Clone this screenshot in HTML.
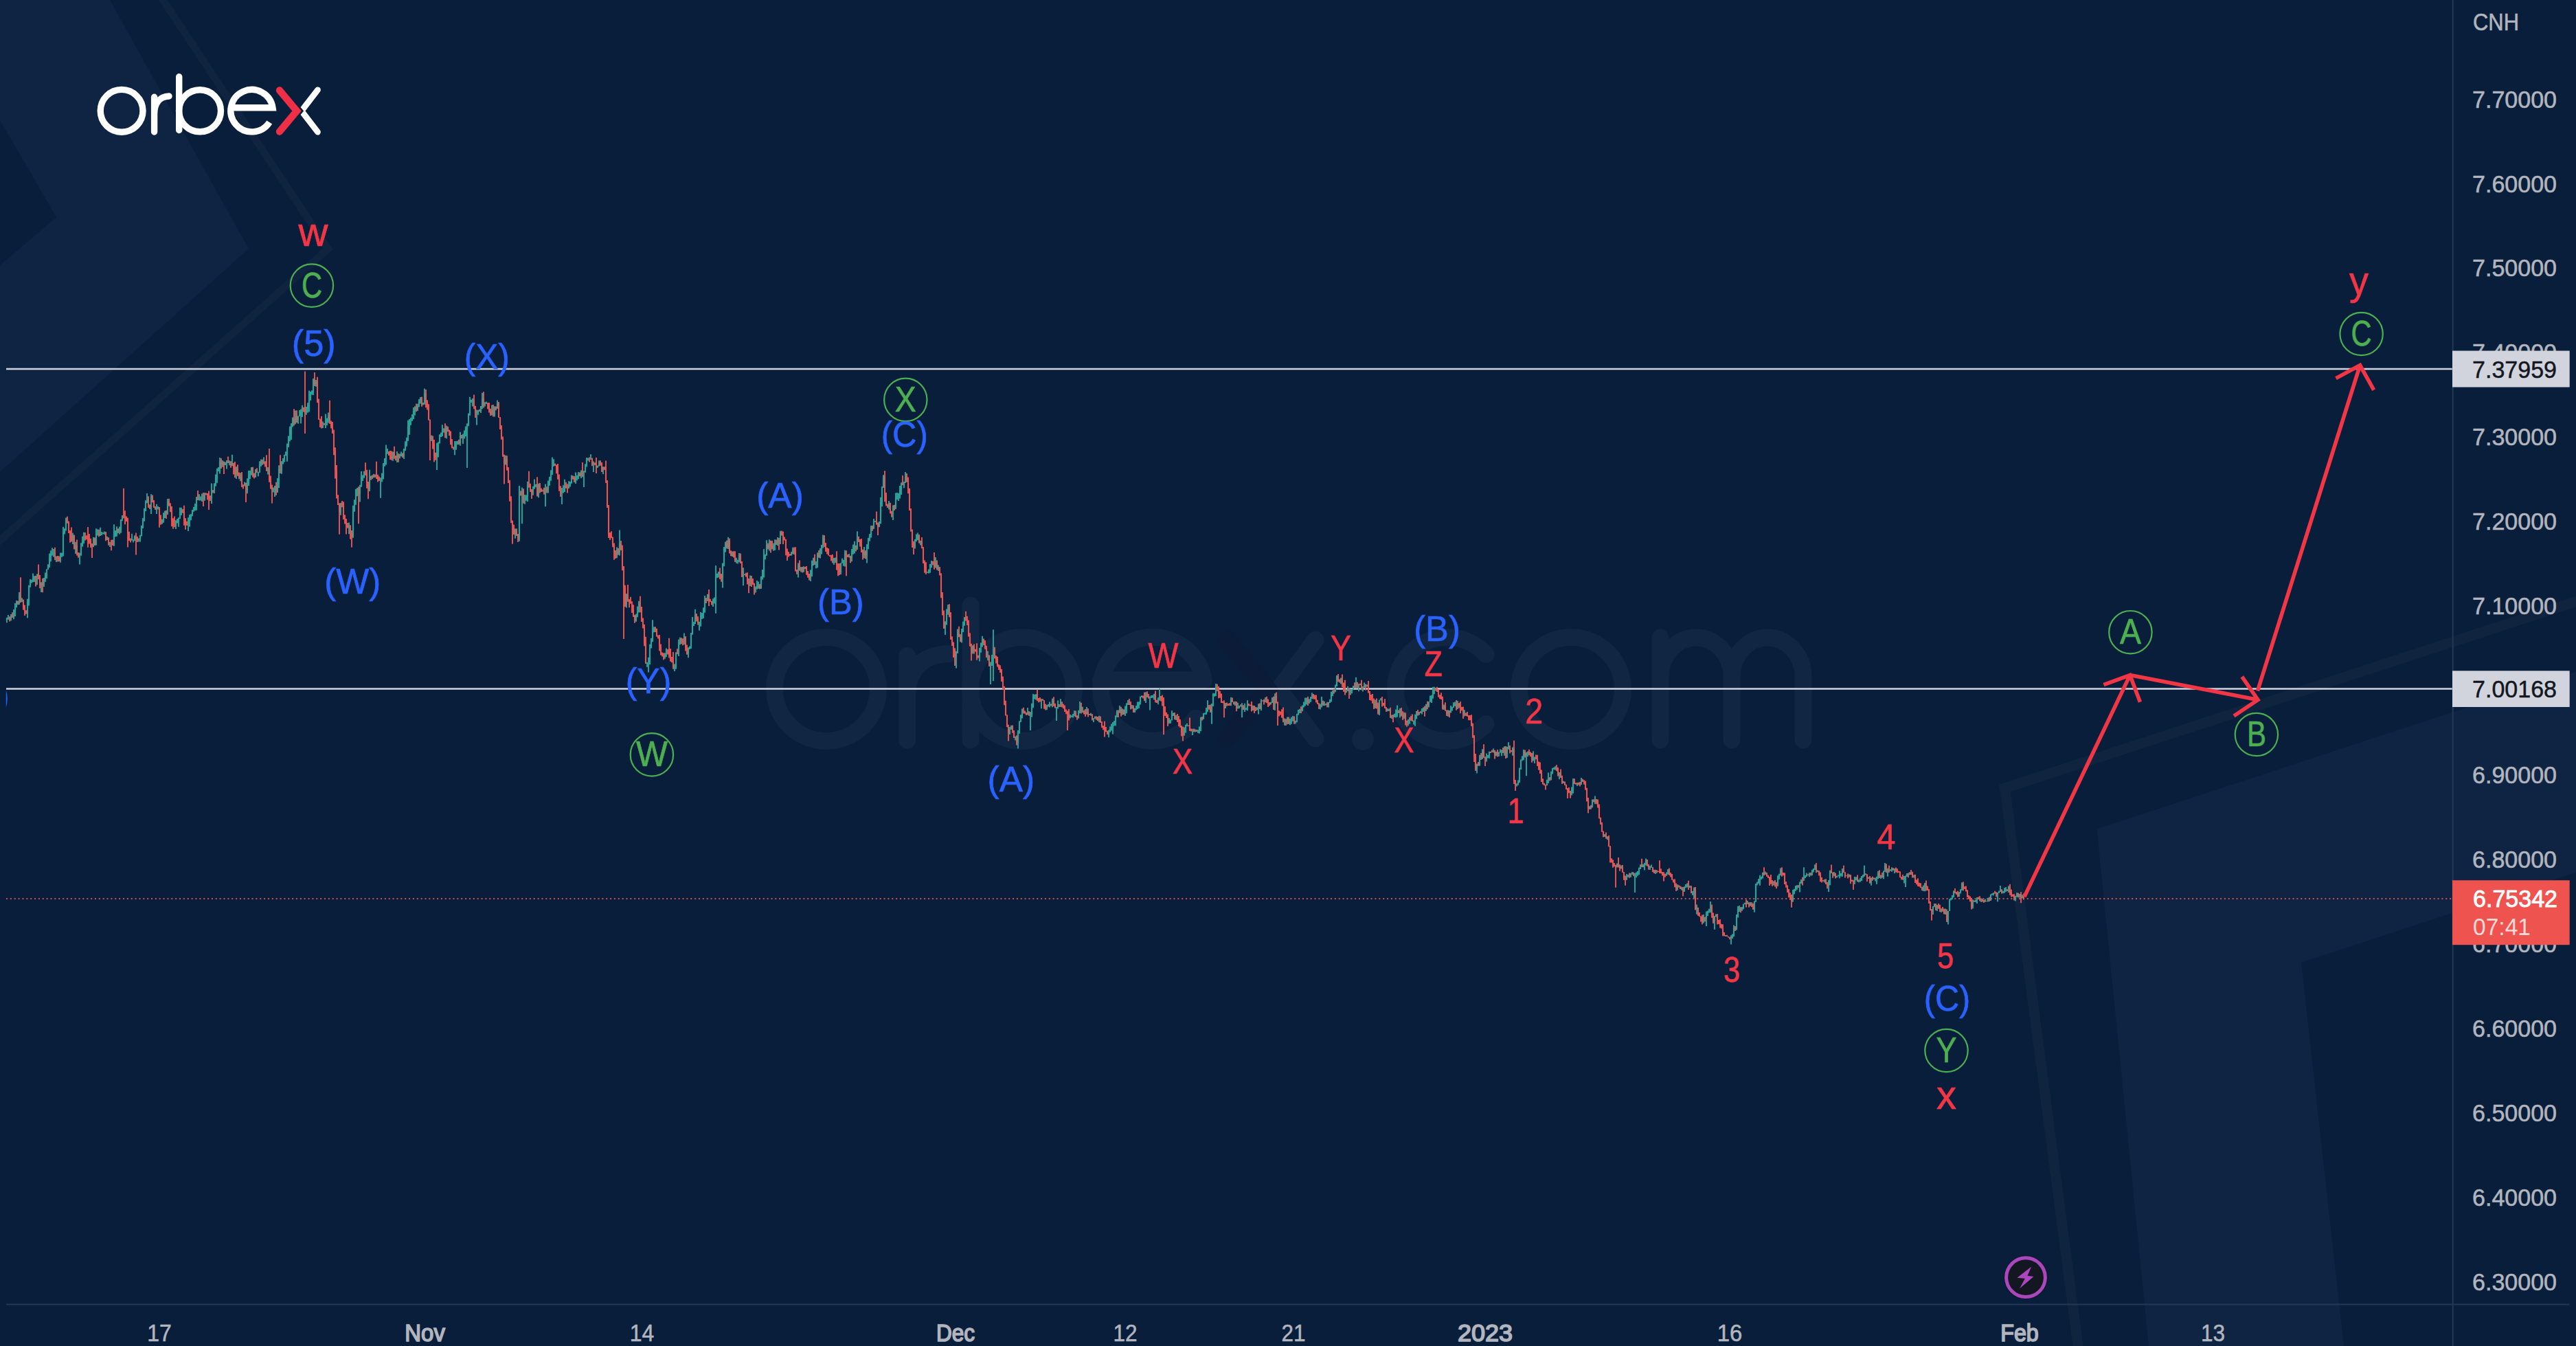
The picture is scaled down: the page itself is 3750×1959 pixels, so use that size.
<!DOCTYPE html>
<html lang="en"><head><meta charset="utf-8"><title>USDCNH Elliott wave chart</title>
<style>
html,body{margin:0;padding:0;background:#081e3b;}
body{width:3750px;height:1959px;overflow:hidden;position:relative;font-family:"Liberation Sans", sans-serif;}
</style></head><body>
<svg width="3750" height="1959" viewBox="0 0 3750 1959" style="position:absolute;left:0;top:0">
<g id="bgshapes">
<polygon points="0,0 160,0 362,362 0,687 0,386 82,316 0,175" fill="#0f2442"/>
<polyline points="234,-5 477.5,362 -5,791" fill="none" stroke="#102440" stroke-width="11"/>
<polygon points="3052.5,1206.4 3750,977.6 3750,1269.8 3350,1401 3412,1959 3128,1959" fill="#0f2442"/>
<polyline points="3756,873.5 2918.5,1147 3026,1966" fill="none" stroke="#102440" stroke-width="15"/>
</g>
<g fill="none" stroke="#112643" stroke-width="25" stroke-linecap="round" stroke-linejoin="round"><circle cx="1203" cy="1003" r="75.5"/><path d="M1320.6 1077.5V954.5M1320.6 1014C1320.6 976 1341 953 1381 951.5"/><path d="M1413 881V1077"/><circle cx="1488" cy="1003" r="75.5"/><path d="M1602.5 990H1752.5A75.5 75.5 0 1 0 1740.6 1045.2"/><path d="M1915 931L1862 1003L1915 1075" stroke-linejoin="miter"/><path d="M2163.1 952.5A75.5 75.5 0 1 0 2163.1 1053.5"/><circle cx="2287" cy="1003" r="75.5"/><path d="M2417 928V1077M2417 985A52 57 0 0 1 2521 985V1077M2521 985A52 57 0 0 1 2625 985V1077"/></g><circle cx="1984" cy="1076" r="16" fill="#112643"/><path d="M1786 931L1846 1003L1786 1075" fill="none" stroke="#0c1b38" stroke-width="25" stroke-linecap="round" stroke-linejoin="miter"/>
<path d="M9 537H3570M9 1002.5H3570" stroke="#cfd2dd" stroke-width="2.4" fill="none"/>
<path d="M9 1308H3570" stroke="#ef5350" stroke-width="2.1" stroke-dasharray="2.1 3.76" stroke-opacity="0.85" fill="none"/>
<path d="M8.8 1004.5Q12.6 1017 8.8 1030Z" fill="#2962ff"/>
<g fill="none">
<path d="M10.0 898.8V906.3M12.0 895.1V901.8M16.0 894.0V903.5M20.0 887.1V901.3M22.0 878.0V896.9M24.0 873.9V884.2M28.0 861.8V879.9M32.0 870.2V876.2M40.0 871.8V899.5M42.0 851.7V881.6M44.0 843.1V854.8M46.0 843.7V848.5M48.0 834.6V847.3M50.0 838.2V847.1M54.0 835.4V851.2M60.0 847.2V861.9M64.0 841.1V854.1M66.0 833.5V846.7M68.0 828.6V841.9M70.0 821.2V829.0M72.0 805.5V826.0M74.0 801.3V817.2M76.0 797.2V808.6M78.0 799.0V810.6M82.0 809.7V818.0M88.0 804.5V818.8M90.0 804.6V810.7M92.0 766.7V809.5M94.0 769.2V777.4M96.0 753.4V772.4M106.0 775.7V792.0M110.0 788.8V806.0M116.0 804.5V821.5M118.0 790.3V808.7M120.0 780.6V795.6M122.0 774.8V791.3M136.0 781.7V796.3M140.0 769.3V793.4M142.0 770.3V779.5M146.0 767.8V779.9M148.0 773.9V779.0M150.0 775.3V777.3M152.0 773.4V777.9M156.0 780.7V786.1M160.0 788.7V795.9M166.0 763.3V794.7M168.0 771.9V781.3M170.0 766.2V780.7M174.0 766.5V777.6M176.0 755.9V775.7M178.0 749.9V758.3M192.0 776.8V786.7M194.0 785.7V789.6M196.0 779.2V787.2M202.0 783.4V788.5M204.0 778.7V788.6M206.0 764.7V780.4M208.0 754.1V769.1M210.0 739.8V758.8M212.0 728.2V744.0M214.0 717.9V732.2M220.0 719.3V748.0M228.0 733.7V748.0M230.0 737.1V741.6M236.0 755.7V762.8M238.0 746.2V760.8M240.0 743.5V754.0M244.0 726.1V748.9M256.0 757.2V770.0M258.0 755.1V761.4M260.0 753.5V766.8M262.0 738.8V755.1M264.0 738.8V750.1M274.0 753.3V773.1M276.0 749.1V766.6M278.0 748.4V757.2M280.0 741.9V751.3M282.0 737.8V744.7M284.0 733.1V743.0M286.0 723.0V742.7M290.0 719.3V728.4M292.0 722.6V728.6M294.0 718.5V730.1M298.0 717.2V728.7M308.0 703.5V733.1M312.0 703.3V718.1M314.0 690.5V707.8M316.0 681.7V702.8M318.0 680.0V685.9M320.0 666.1V689.4M324.0 670.1V679.8M328.0 672.4V677.1M330.0 669.9V682.5M334.0 670.2V677.2M338.0 661.7V678.3M344.0 679.0V697.1M350.0 688.2V700.3M356.0 701.5V707.7M360.0 696.2V718.3M362.0 685.1V707.0M364.0 684.7V697.2M366.0 679.9V691.7M372.0 682.7V695.0M376.0 687.0V693.3M378.0 671.2V687.9M380.0 668.5V678.8M384.0 665.6V675.5M390.0 680.1V690.5M398.0 709.6V716.6M400.0 706.9V722.9M404.0 695.9V717.1M406.0 677.2V709.9M410.0 671.2V689.7M412.0 667.1V675.5M414.0 661.8V672.6M416.0 657.3V663.4M418.0 645.5V671.7M420.0 634.5V651.0M422.0 620.4V642.2M424.0 615.9V640.0M426.0 607.6V621.4M430.0 597.5V617.6M434.0 605.4V616.8M436.0 597.1V605.8M438.0 595.6V616.3M440.0 589.7V607.0M446.0 591.9V603.7M448.0 586.2V600.7M450.0 568.6V599.4M452.0 570.0V582.7M454.0 568.2V574.4M456.0 550.7V575.0M460.0 553.1V562.8M470.0 613.4V623.0M474.0 602.6V623.0M476.0 608.6V619.0M478.0 600.5V615.4M496.0 731.8V749.7M508.0 760.6V777.3M514.0 735.8V782.7M516.0 727.4V744.7M518.0 711.8V734.7M520.0 710.1V722.3M524.0 705.8V730.5M526.0 686.1V708.8M528.0 691.6V699.9M530.0 685.7V695.8M538.0 683.7V715.0M542.0 691.6V697.2M546.0 690.4V694.7M554.0 695.2V724.7M556.0 688.5V701.4M558.0 673.9V697.6M560.0 667.0V678.6M562.0 647.5V676.4M564.0 653.1V660.8M572.0 657.6V670.7M578.0 657.0V672.9M582.0 660.4V667.2M584.0 657.5V664.3M588.0 653.1V667.9M590.0 642.2V656.1M592.0 636.7V649.8M594.0 611.8V642.1M596.0 610.0V632.8M598.0 608.1V618.7M600.0 603.1V612.8M602.0 593.1V609.9M604.0 591.3V604.4M608.0 587.7V598.0M610.0 581.1V592.6M612.0 577.9V587.4M616.0 586.0V589.3M618.0 565.5V588.8M628.0 633.4V642.1M636.0 644.8V684.1M638.0 643.2V665.5M640.0 632.2V645.4M642.0 629.4V636.0M644.0 618.3V635.0M646.0 623.2V629.6M650.0 619.5V638.2M662.0 642.1V662.3M664.0 642.0V654.7M666.0 641.4V647.2M670.0 628.7V648.7M674.0 631.5V646.1M676.0 626.5V638.5M678.0 620.4V635.1M680.0 616.3V681.0M682.0 601.5V620.2M684.0 577.7V604.7M686.0 581.7V586.1M688.0 579.8V591.4M694.0 596.6V618.6M696.0 596.8V603.7M700.0 591.1V601.1M702.0 571.8V595.0M706.0 585.2V591.4M708.0 584.6V588.0M716.0 589.6V604.5M720.0 591.2V606.4M724.0 582.6V594.7M736.0 662.8V676.4M750.0 769.2V783.7M756.0 707.1V787.8M760.0 709.6V762.2M764.0 720.1V733.7M766.0 720.3V728.8M768.0 700.7V730.0M776.0 707.7V720.8M778.0 697.6V711.8M780.0 704.7V709.2M784.0 703.7V724.2M790.0 712.5V715.4M794.0 704.6V737.2M798.0 699.4V717.5M800.0 693.8V706.7M802.0 684.2V699.8M804.0 665.4V691.1M806.0 668.3V678.5M818.0 710.0V734.1M820.0 706.3V717.6M822.0 697.7V715.9M828.0 700.3V710.7M830.0 701.1V708.5M832.0 691.6V703.8M838.0 687.6V704.1M840.0 691.7V699.2M842.0 687.0V697.2M846.0 684.4V696.1M850.0 685.2V709.1M852.0 675.2V687.7M854.0 666.1V679.5M856.0 666.6V670.5M860.0 661.2V668.9M864.0 671.6V687.1M870.0 677.4V680.7M872.0 670.3V678.5M878.0 679.3V689.9M898.0 796.5V812.2M902.0 771.5V808.4M912.0 864.0V884.5M926.0 893.5V904.8M928.0 882.5V898.3M930.0 874.8V891.6M942.0 964.1V970.8M944.0 956.8V978.6M946.0 937.7V967.2M948.0 929.0V943.6M950.0 902.3V934.3M952.0 912.2V920.2M968.0 950.3V958.7M970.0 943.4V955.9M982.0 966.5V977.1M984.0 949.2V973.8M988.0 930.8V954.9M990.0 927.8V938.3M996.0 921.6V938.3M1002.0 942.3V957.2M1004.0 940.5V945.0M1006.0 921.0V944.1M1008.0 898.0V923.7M1010.0 905.5V911.0M1012.0 886.8V908.1M1018.0 904.8V917.8M1020.0 890.8V911.7M1022.0 892.1V901.1M1024.0 884.3V900.1M1026.0 867.0V891.7M1030.0 864.8V875.1M1038.0 871.3V883.0M1040.0 869.4V878.5M1042.0 823.1V892.8M1044.0 834.8V841.1M1046.0 832.1V840.5M1052.0 819.5V855.4M1054.0 795.9V824.2M1056.0 788.5V803.7M1060.0 781.8V799.1M1066.0 802.5V809.9M1072.0 811.8V819.8M1074.0 814.7V820.4M1076.0 805.1V818.2M1082.0 826.3V852.2M1084.0 835.5V837.2M1092.0 837.6V852.9M1100.0 853.5V862.4M1102.0 845.1V857.8M1104.0 846.5V856.7M1108.0 838.8V857.0M1110.0 829.3V843.5M1112.0 799.3V840.5M1114.0 806.9V814.2M1116.0 786.2V808.8M1120.0 785.2V801.5M1126.0 790.6V801.8M1128.0 785.3V800.9M1132.0 782.1V794.2M1136.0 772.8V792.1M1152.0 803.0V808.4M1154.0 796.7V806.4M1162.0 819.6V840.5M1166.0 825.3V832.6M1170.0 824.3V832.7M1180.0 829.4V846.0M1182.0 815.7V839.0M1184.0 811.7V822.9M1188.0 817.3V827.3M1190.0 804.3V826.6M1194.0 798.0V812.6M1196.0 793.0V806.5M1198.0 778.6V797.7M1214.0 812.0V821.9M1216.0 811.4V819.2M1224.0 819.5V835.9M1226.0 812.7V819.8M1228.0 814.7V823.8M1230.0 800.7V824.5M1236.0 806.1V811.4M1240.0 798.9V817.3M1242.0 792.4V806.8M1244.0 787.8V805.6M1248.0 773.3V800.0M1258.0 796.0V812.2M1262.0 791.9V819.5M1264.0 782.8V799.3M1266.0 777.0V787.8M1268.0 764.9V782.6M1272.0 754.9V769.8M1274.0 758.0V759.8M1280.0 759.0V767.2M1282.0 723.7V762.2M1284.0 708.0V737.2M1286.0 691.3V710.0M1294.0 728.9V741.6M1300.0 735.2V757.0M1304.0 717.6V740.9M1306.0 716.9V727.3M1308.0 717.7V729.1M1310.0 707.1V725.5M1312.0 702.2V720.0M1316.0 701.1V710.3M1318.0 687.0V702.9M1332.0 784.7V798.5M1334.0 777.6V788.3M1336.0 775.4V786.3M1340.0 786.7V793.5M1350.0 832.2V833.7M1352.0 828.4V834.5M1354.0 821.0V833.7M1356.0 815.9V826.2M1362.0 811.0V826.4M1366.0 822.3V831.0M1376.0 904.3V924.1M1378.0 886.4V909.6M1380.0 879.9V894.8M1392.0 947.7V972.5M1394.0 915.6V951.1M1400.0 915.1V935.5M1402.0 904.4V920.0M1404.0 898.1V910.8M1416.0 939.2V951.5M1426.0 943.1V962.4M1428.0 935.4V949.7M1430.0 925.7V941.4M1438.0 947.8V961.2M1442.0 963.5V995.9M1444.0 952.9V969.1M1446.0 916.3V991.2M1470.0 1057.9V1068.9M1472.0 1055.7V1062.0M1478.0 1071.7V1077.4M1482.0 1063.1V1089.6M1484.0 1049.4V1067.7M1486.0 1040.3V1051.1M1488.0 1031.5V1045.6M1496.0 1030.1V1040.6M1500.0 1036.1V1063.0M1502.0 1023.7V1043.6M1504.0 1010.1V1030.2M1506.0 1010.7V1017.6M1508.0 1010.2V1018.5M1516.0 1017.1V1031.3M1524.0 1026.1V1033.3M1526.0 1025.0V1028.6M1528.0 1021.4V1029.6M1532.0 1016.5V1029.2M1538.0 1029.1V1049.0M1540.0 1019.5V1031.4M1544.0 1017.3V1028.9M1558.0 1040.0V1045.3M1560.0 1041.6V1043.7M1562.0 1039.2V1044.6M1564.0 1034.3V1042.5M1570.0 1033.8V1045.8M1572.0 1020.9V1038.2M1576.0 1028.7V1037.2M1582.0 1029.0V1039.8M1588.0 1037.8V1041.8M1592.0 1045.0V1050.9M1594.0 1042.5V1046.0M1600.0 1041.8V1051.2M1614.0 1062.3V1073.3M1616.0 1057.6V1065.6M1618.0 1053.4V1063.5M1620.0 1051.1V1068.4M1622.0 1049.0V1056.6M1624.0 1041.2V1056.2M1626.0 1033.6V1044.0M1630.0 1027.1V1037.7M1634.0 1031.3V1040.5M1638.0 1027.5V1042.1M1640.0 1023.3V1038.2M1642.0 1019.1V1025.9M1648.0 1025.9V1031.4M1652.0 1030.8V1037.1M1654.0 1027.0V1033.4M1656.0 1021.6V1032.0M1658.0 1021.2V1030.8M1660.0 1013.5V1025.4M1662.0 1012.2V1015.0M1668.0 1007.2V1023.1M1674.0 1013.5V1033.4M1676.0 1012.1V1015.8M1678.0 1011.8V1015.7M1680.0 1009.8V1018.5M1686.0 1015.3V1025.3M1688.0 1002.2V1019.8M1702.0 1045.1V1053.3M1704.0 1047.4V1053.1M1706.0 1034.3V1048.6M1708.0 1037.4V1041.9M1712.0 1040.9V1048.0M1724.0 1058.4V1070.8M1726.0 1054.7V1066.6M1728.0 1052.7V1057.2M1736.0 1060.8V1070.0M1740.0 1061.5V1065.4M1744.0 1062.3V1067.0M1746.0 1057.5V1067.4M1748.0 1043.7V1064.0M1752.0 1037.7V1046.7M1754.0 1037.4V1039.8M1756.0 1030.0V1040.0M1758.0 1019.3V1036.3M1764.0 1023.9V1053.7M1766.0 1008.7V1028.1M1768.0 1009.4V1013.8M1770.0 995.1V1013.0M1784.0 1022.9V1031.0M1792.0 1014.7V1027.2M1798.0 1020.8V1027.0M1802.0 1022.7V1031.6M1804.0 1027.1V1031.0M1808.0 1023.3V1044.3M1812.0 1023.8V1036.1M1814.0 1030.5V1033.3M1816.0 1019.3V1034.2M1824.0 1026.8V1034.1M1830.0 1029.5V1033.4M1832.0 1024.3V1039.6M1836.0 1017.6V1034.2M1842.0 1015.0V1022.3M1850.0 1021.8V1025.5M1852.0 1015.0V1023.1M1856.0 1009.2V1034.0M1870.0 1045.5V1055.7M1874.0 1043.6V1054.2M1878.0 1046.0V1055.3M1880.0 1043.7V1053.8M1882.0 1042.0V1049.7M1886.0 1048.7V1053.3M1888.0 1038.7V1051.3M1890.0 1033.0V1040.8M1892.0 1031.8V1037.9M1896.0 1026.6V1035.2M1898.0 1021.6V1029.5M1900.0 1015.4V1027.6M1902.0 1015.6V1025.4M1906.0 1017.2V1024.0M1908.0 1014.1V1021.7M1910.0 1008.2V1016.9M1922.0 1024.5V1032.5M1924.0 1014.1V1029.4M1928.0 1020.8V1027.3M1930.0 1023.9V1026.5M1934.0 1021.7V1029.5M1936.0 1017.8V1023.1M1938.0 1006.8V1021.5M1940.0 1004.7V1013.1M1944.0 996.5V1007.3M1946.0 983.1V998.9M1952.0 986.4V995.6M1960.0 1004.3V1008.2M1962.0 998.7V1006.0M1966.0 1002.6V1011.5M1968.0 1003.1V1009.3M1970.0 998.0V1003.8M1974.0 985.8V1001.9M1978.0 995.2V1006.3M1984.0 998.9V1006.5M1986.0 993.4V1000.5M1990.0 996.4V999.4M2002.0 1018.6V1030.9M2008.0 1018.6V1041.1M2010.0 1016.1V1019.6M2020.0 1030.9V1035.3M2022.0 1031.8V1035.1M2026.0 1040.6V1046.1M2030.0 1038.8V1043.9M2032.0 1032.6V1044.4M2034.0 1026.4V1043.4M2038.0 1031.0V1044.6M2044.0 1036.8V1046.2M2050.0 1046.9V1055.9M2052.0 1044.1V1053.4M2058.0 1048.4V1054.6M2060.0 1039.8V1056.7M2062.0 1035.0V1046.5M2066.0 1035.9V1040.8M2070.0 1030.9V1039.6M2072.0 1029.5V1035.9M2076.0 1024.7V1035.1M2080.0 1021.0V1029.5M2082.0 1012.6V1021.8M2084.0 1011.7V1022.9M2086.0 999.8V1016.7M2088.0 999.8V1010.2M2102.0 1025.5V1033.1M2108.0 1033.2V1042.7M2112.0 1027.1V1037.4M2114.0 1028.7V1034.4M2116.0 1022.3V1030.0M2118.0 1021.5V1027.7M2122.0 1020.1V1032.1M2132.0 1033.3V1042.5M2150.0 1111.6V1125.5M2154.0 1098.8V1114.7M2158.0 1090.2V1104.7M2164.0 1096.4V1108.5M2166.0 1099.0V1103.3M2168.0 1093.8V1103.7M2174.0 1089.6V1095.4M2178.0 1094.1V1100.4M2182.0 1094.5V1100.9M2184.0 1090.6V1095.5M2186.0 1091.2V1100.2M2190.0 1086.2V1099.8M2194.0 1086.7V1103.1M2196.0 1080.2V1090.7M2202.0 1087.4V1099.8M2208.0 1140.4V1144.5M2210.0 1135.5V1142.7M2212.0 1117.6V1138.9M2214.0 1105.6V1120.0M2216.0 1100.2V1107.3M2218.0 1090.9V1106.3M2222.0 1094.8V1129.3M2224.0 1093.6V1101.2M2232.0 1093.2V1107.6M2234.0 1101.7V1110.9M2252.0 1134.7V1143.3M2254.0 1124.4V1140.1M2258.0 1122.8V1135.4M2260.0 1117.8V1126.5M2262.0 1116.8V1120.0M2264.0 1115.2V1120.7M2270.0 1124.0V1134.2M2276.0 1136.8V1139.9M2288.0 1145.5V1157.6M2290.0 1133.0V1154.7M2296.0 1138.9V1144.0M2302.0 1132.1V1141.9M2314.0 1173.3V1177.9M2318.0 1163.4V1175.5M2322.0 1158.6V1170.2M2336.0 1214.0V1217.8M2340.0 1217.2V1222.3M2354.0 1256.6V1262.4M2360.0 1259.5V1264.3M2368.0 1272.1V1281.0M2370.0 1272.9V1276.8M2374.0 1270.8V1276.8M2376.0 1268.9V1273.0M2380.0 1270.7V1299.0M2382.0 1269.4V1277.2M2384.0 1268.0V1274.7M2386.0 1262.4V1273.0M2388.0 1258.2V1264.9M2392.0 1257.7V1262.2M2394.0 1255.8V1266.4M2396.0 1249.6V1259.5M2402.0 1260.2V1265.9M2404.0 1258.5V1263.0M2410.0 1265.7V1271.9M2426.0 1269.6V1274.4M2428.0 1265.3V1272.7M2442.0 1287.2V1295.7M2448.0 1290.7V1295.8M2452.0 1290.2V1298.0M2454.0 1286.9V1292.3M2456.0 1285.6V1291.6M2460.0 1289.0V1292.1M2464.0 1297.0V1303.0M2466.0 1291.6V1307.4M2470.0 1316.6V1330.8M2480.0 1331.1V1343.4M2484.0 1326.6V1348.0M2486.0 1325.4V1333.0M2488.0 1322.8V1328.5M2490.0 1312.1V1328.2M2496.0 1333.0V1352.7M2498.0 1330.5V1334.5M2512.0 1360.9V1363.0M2520.0 1361.3V1374.5M2522.0 1359.5V1366.1M2524.0 1346.5V1363.1M2528.0 1331.0V1353.7M2530.0 1319.0V1335.4M2532.0 1317.9V1326.9M2536.0 1320.0V1325.7M2538.0 1315.5V1323.2M2540.0 1313.7V1316.3M2544.0 1311.0V1316.1M2548.0 1313.1V1318.8M2554.0 1311.3V1327.7M2556.0 1285.9V1312.8M2558.0 1283.4V1288.6M2560.0 1278.9V1285.9M2562.0 1273.8V1288.8M2564.0 1275.7V1280.1M2566.0 1269.8V1278.5M2570.0 1268.6V1273.1M2582.0 1282.4V1288.6M2588.0 1274.3V1289.9M2590.0 1271.7V1279.8M2592.0 1263.6V1274.2M2610.0 1295.1V1312.7M2612.0 1293.8V1301.6M2614.0 1289.0V1296.7M2616.0 1288.6V1294.8M2620.0 1283.4V1298.6M2622.0 1279.9V1286.1M2626.0 1262.2V1282.1M2628.0 1274.0V1278.1M2630.0 1270.5V1275.9M2634.0 1270.0V1276.3M2638.0 1265.7V1274.2M2640.0 1264.1V1269.5M2642.0 1258.3V1265.9M2646.0 1266.6V1269.3M2656.0 1279.7V1284.5M2662.0 1281.0V1298.1M2664.0 1266.6V1288.2M2670.0 1268.9V1275.3M2674.0 1274.8V1277.2M2676.0 1273.6V1275.6M2678.0 1267.2V1278.2M2680.0 1271.1V1275.5M2682.0 1264.0V1275.8M2688.0 1274.2V1275.2M2692.0 1272.5V1276.7M2700.0 1275.9V1287.0M2702.0 1276.2V1281.3M2706.0 1280.3V1284.3M2708.0 1277.8V1283.6M2710.0 1275.1V1281.9M2712.0 1273.0V1277.5M2714.0 1259.7V1275.7M2720.0 1276.4V1278.9M2724.0 1277.4V1288.8M2730.0 1277.4V1282.4M2732.0 1275.8V1286.8M2734.0 1267.8V1279.1M2738.0 1273.5V1278.9M2742.0 1267.2V1279.2M2744.0 1256.1V1268.8M2748.0 1263.7V1275.7M2752.0 1265.2V1267.6M2754.0 1262.3V1268.8M2758.0 1264.1V1271.1M2772.0 1275.0V1285.6M2774.0 1274.5V1291.0M2776.0 1271.3V1276.1M2780.0 1269.2V1273.6M2786.0 1273.6V1277.5M2800.0 1288.5V1296.9M2802.0 1284.9V1297.2M2814.0 1318.9V1331.1M2816.0 1315.3V1320.2M2820.0 1317.3V1325.9M2826.0 1322.5V1328.0M2832.0 1322.6V1331.1M2836.0 1326.0V1345.4M2838.0 1308.2V1326.1M2840.0 1306.7V1310.5M2842.0 1303.0V1309.1M2844.0 1296.2V1305.9M2852.0 1298.4V1305.2M2854.0 1294.2V1300.5M2856.0 1284.2V1295.9M2872.0 1309.2V1322.2M2876.0 1309.5V1313.2M2878.0 1305.9V1315.1M2884.0 1307.2V1313.0M2890.0 1308.6V1312.8M2894.0 1306.7V1312.6M2898.0 1301.5V1311.1M2900.0 1300.2V1302.7M2902.0 1299.2V1303.2M2908.0 1298.9V1312.3M2910.0 1296.4V1300.0M2912.0 1288.9V1297.9M2916.0 1296.7V1300.2M2918.0 1292.3V1299.7M2920.0 1291.3V1298.0M2924.0 1289.2V1298.9M2934.0 1303.7V1311.4M2936.0 1299.3V1305.4M2940.0 1300.9V1306.4M2944.0 1302.3V1307.5" stroke="#26a69a" stroke-width="1.9"/>
<path d="M14.0 897.3V904.5M18.0 891.3V898.9M26.0 874.4V880.2M30.0 840.2V877.0M34.0 872.5V887.7M36.0 880.5V896.1M38.0 888.2V893.6M52.0 838.0V853.5M56.0 821.5V843.2M58.0 836.9V856.2M62.0 841.8V862.3M80.0 796.8V815.2M84.0 809.0V817.6M86.0 809.4V817.2M98.0 751.8V761.8M100.0 758.4V775.9M102.0 772.1V789.8M104.0 767.4V788.6M108.0 778.6V799.5M112.0 785.5V808.4M114.0 803.9V811.7M124.0 775.1V786.4M126.0 779.3V785.2M128.0 766.9V796.8M130.0 777.1V791.5M132.0 783.7V797.0M134.0 790.9V812.1M138.0 782.3V793.9M144.0 770.7V781.2M154.0 774.0V787.2M158.0 782.2V793.8M162.0 785.7V801.2M164.0 785.5V793.7M172.0 769.4V776.0M180.0 710.7V754.5M182.0 743.3V763.2M184.0 751.4V759.0M186.0 753.8V796.5M188.0 773.8V786.9M190.0 783.5V789.6M198.0 775.5V807.4M200.0 780.7V789.0M216.0 722.2V739.0M218.0 734.3V740.9M222.0 720.4V731.3M224.0 728.0V739.1M226.0 737.1V742.0M232.0 738.1V767.7M234.0 749.5V763.7M242.0 742.7V755.0M246.0 725.8V736.7M248.0 732.2V745.3M250.0 736.9V766.3M252.0 754.3V769.8M254.0 751.5V767.2M266.0 741.0V746.7M268.0 735.8V764.8M270.0 754.3V770.7M272.0 758.8V764.6M288.0 714.0V728.0M296.0 717.1V736.9M300.0 717.6V720.4M302.0 717.9V727.4M304.0 714.5V741.9M306.0 721.3V729.0M310.0 713.2V717.6M322.0 667.0V682.1M326.0 671.4V690.1M332.0 664.5V674.1M336.0 671.3V680.8M340.0 673.7V690.5M342.0 672.1V695.3M346.0 676.2V692.8M348.0 687.6V697.3M352.0 687.0V709.1M354.0 705.2V711.6M358.0 702.5V731.0M368.0 679.7V694.6M370.0 688.5V696.5M374.0 681.3V688.0M382.0 668.8V676.8M386.0 671.3V679.5M388.0 662.3V685.7M392.0 652.9V701.7M394.0 692.6V711.8M396.0 705.6V732.5M402.0 701.7V720.9M408.0 662.3V689.1M428.0 595.2V619.6M432.0 597.2V615.2M442.0 592.8V599.8M444.0 540.6V631.1M458.0 542.1V562.0M462.0 548.8V586.2M464.0 580.4V610.8M466.0 609.4V622.1M468.0 605.7V623.6M472.0 616.1V618.8M480.0 582.7V616.9M482.0 612.5V623.6M484.0 613.9V630.9M486.0 625.6V662.2M488.0 651.3V696.6M490.0 677.0V725.6M492.0 720.3V734.9M494.0 732.3V777.8M498.0 728.9V738.2M500.0 730.3V755.9M502.0 749.3V762.6M504.0 755.1V777.6M506.0 761.1V768.7M510.0 764.3V784.7M512.0 772.1V796.5M522.0 708.2V762.2M532.0 673.2V691.9M534.0 683.8V710.7M536.0 701.0V726.3M540.0 692.5V698.8M544.0 689.8V695.3M548.0 671.7V697.1M550.0 690.8V701.6M552.0 693.4V700.0M566.0 656.9V663.1M568.0 656.1V669.1M570.0 656.4V669.7M574.0 649.8V667.7M576.0 663.2V670.3M580.0 660.0V672.7M586.0 659.3V666.1M606.0 587.4V599.3M614.0 577.5V591.8M620.0 566.9V593.2M622.0 582.3V596.5M624.0 588.3V611.6M626.0 610.5V670.1M630.0 634.2V653.6M632.0 639.9V672.3M634.0 658.7V669.7M648.0 616.3V637.3M652.0 620.7V628.2M654.0 625.4V633.9M656.0 627.4V647.2M658.0 639.0V652.2M660.0 650.3V654.4M668.0 639.7V647.1M672.0 633.0V638.2M690.0 574.4V595.2M692.0 590.7V607.9M698.0 595.8V599.0M704.0 570.2V593.6M710.0 586.2V595.2M712.0 586.1V600.5M714.0 594.8V605.1M718.0 588.9V606.5M722.0 591.6V597.2M726.0 585.1V608.0M728.0 607.0V625.0M730.0 619.0V639.7M732.0 635.4V664.7M734.0 661.7V704.4M738.0 663.2V684.7M740.0 680.1V703.0M742.0 698.8V729.8M744.0 722.2V761.2M746.0 757.4V791.8M748.0 763.4V778.1M752.0 769.3V780.0M754.0 777.1V789.1M758.0 714.3V721.4M762.0 711.2V732.7M770.0 685.7V709.8M772.0 703.8V715.9M774.0 712.1V725.9M782.0 694.3V722.4M786.0 703.1V717.5M788.0 710.6V715.9M792.0 709.8V719.7M796.0 708.3V717.4M808.0 674.6V677.9M810.0 676.5V689.3M812.0 675.1V697.8M814.0 690.6V714.7M816.0 707.3V723.1M824.0 701.8V710.5M826.0 704.5V717.5M834.0 692.2V697.8M836.0 693.1V701.9M844.0 687.6V693.3M848.0 673.1V694.3M858.0 665.4V672.6M862.0 666.4V678.2M866.0 673.3V676.7M868.0 666.1V689.0M874.0 670.2V677.8M876.0 673.0V687.1M880.0 679.5V684.1M882.0 670.6V702.9M884.0 699.2V739.0M886.0 735.1V783.0M888.0 775.1V786.0M890.0 773.2V783.3M892.0 781.5V796.2M894.0 790.6V814.7M896.0 801.1V813.0M900.0 797.8V807.8M904.0 787.1V801.1M906.0 793.5V830.2M908.0 824.1V930.1M910.0 851.7V883.2M914.0 851.1V875.7M916.0 872.2V884.2M918.0 868.7V878.4M920.0 875.2V892.0M922.0 880.3V898.1M924.0 894.8V906.7M932.0 867.8V891.2M934.0 882.9V904.9M936.0 899.5V914.6M938.0 908.8V940.2M940.0 926.7V965.9M954.0 912.3V920.0M956.0 914.8V926.6M958.0 924.5V929.6M960.0 923.9V947.4M962.0 937.5V953.5M964.0 949.4V955.6M966.0 950.2V960.3M972.0 945.0V952.6M974.0 928.7V957.5M976.0 944.0V962.7M978.0 956.1V964.2M980.0 948.9V973.7M986.0 944.3V952.2M992.0 928.3V937.2M994.0 929.2V939.2M998.0 926.2V947.6M1000.0 938.5V952.7M1014.0 892.9V904.4M1016.0 897.3V909.5M1028.0 870.1V877.9M1032.0 857.9V882.0M1034.0 871.7V875.4M1036.0 874.8V880.6M1048.0 826.4V842.9M1050.0 834.9V846.8M1058.0 786.4V798.6M1062.0 783.4V805.6M1064.0 801.5V809.3M1068.0 802.3V811.4M1070.0 802.2V817.8M1078.0 805.4V819.9M1080.0 816.9V840.0M1086.0 833.7V839.6M1088.0 833.3V850.6M1090.0 841.9V863.2M1094.0 838.1V853.9M1096.0 842.0V851.0M1098.0 848.8V865.5M1106.0 849.9V857.3M1118.0 790.6V799.4M1122.0 786.7V804.5M1124.0 787.1V799.4M1130.0 785.5V792.9M1134.0 782.8V800.4M1138.0 772.4V779.6M1140.0 773.6V792.1M1142.0 781.5V786.6M1144.0 784.7V808.3M1146.0 798.4V816.0M1148.0 802.9V810.6M1150.0 806.2V808.8M1156.0 796.4V806.9M1158.0 796.2V831.5M1160.0 829.0V835.8M1164.0 815.6V830.8M1168.0 824.9V833.4M1172.0 825.1V828.2M1174.0 824.1V836.7M1176.0 831.0V840.7M1178.0 835.0V844.6M1186.0 806.7V822.0M1192.0 800.9V811.7M1200.0 778.9V796.3M1202.0 790.1V803.1M1204.0 797.1V806.5M1206.0 798.2V808.4M1208.0 808.0V810.0M1210.0 807.8V816.5M1212.0 807.1V819.6M1218.0 802.3V829.8M1220.0 820.1V838.2M1222.0 819.9V837.1M1232.0 801.2V838.2M1234.0 807.1V811.0M1238.0 808.7V819.3M1246.0 793.8V802.5M1250.0 780.7V788.9M1252.0 785.1V795.4M1254.0 783.9V804.1M1256.0 799.7V814.4M1260.0 801.1V813.4M1270.0 764.7V772.8M1276.0 744.6V763.8M1278.0 760.6V779.0M1288.0 685.3V730.2M1290.0 717.0V736.3M1292.0 733.4V738.9M1296.0 731.8V747.6M1298.0 743.7V752.7M1302.0 734.7V742.9M1314.0 692.1V706.3M1320.0 689.1V701.7M1322.0 694.4V718.2M1324.0 710.7V743.1M1326.0 739.9V773.8M1328.0 770.4V797.1M1330.0 787.8V807.0M1338.0 778.0V790.7M1342.0 782.0V798.2M1344.0 795.9V820.1M1346.0 815.5V833.8M1348.0 818.3V836.0M1358.0 816.8V822.6M1360.0 803.9V828.8M1364.0 815.4V829.6M1368.0 825.3V837.4M1370.0 834.2V870.3M1372.0 862.0V895.5M1374.0 888.5V915.1M1382.0 879.3V898.2M1384.0 890.9V930.9M1386.0 926.3V939.9M1388.0 934.5V957.1M1390.0 943.2V969.0M1396.0 911.7V927.3M1398.0 923.0V934.2M1406.0 889.8V903.6M1408.0 896.8V909.9M1410.0 902.6V926.5M1412.0 921.3V940.6M1414.0 936.8V961.6M1418.0 937.6V951.5M1420.0 944.8V948.5M1422.0 936.3V960.5M1424.0 953.8V957.8M1432.0 929.6V939.1M1434.0 932.0V944.7M1436.0 939.7V957.0M1440.0 953.4V969.9M1448.0 941.7V958.4M1450.0 954.3V965.6M1452.0 955.7V970.6M1454.0 967.0V975.0M1456.0 968.3V978.9M1458.0 973.7V991.9M1460.0 984.6V1003.3M1462.0 998.7V1026.2M1464.0 1019.7V1041.4M1466.0 1040.2V1058.2M1468.0 1054.8V1078.6M1474.0 1055.5V1066.7M1476.0 1063.1V1074.1M1480.0 1070.2V1084.4M1490.0 1029.8V1038.6M1492.0 1034.4V1038.6M1494.0 1037.1V1041.1M1498.0 1035.0V1042.0M1510.0 1003.7V1020.2M1512.0 1015.9V1022.3M1514.0 1015.1V1021.6M1518.0 1017.3V1019.8M1520.0 1019.1V1031.8M1522.0 1024.5V1033.6M1530.0 1024.5V1027.3M1534.0 1014.3V1028.1M1536.0 1023.8V1030.4M1542.0 1024.9V1029.1M1546.0 1021.5V1029.4M1548.0 1024.6V1031.2M1550.0 1026.4V1036.1M1552.0 1032.5V1039.2M1554.0 1034.4V1063.0M1556.0 1032.0V1048.4M1566.0 1034.5V1043.7M1568.0 1041.3V1047.8M1574.0 1022.8V1038.5M1578.0 1033.8V1039.4M1580.0 1032.1V1042.9M1584.0 1031.3V1043.5M1586.0 1038.9V1040.7M1590.0 1039.5V1048.4M1596.0 1042.5V1047.8M1598.0 1043.3V1049.3M1602.0 1042.5V1052.0M1604.0 1050.1V1059.0M1606.0 1056.3V1062.2M1608.0 1049.8V1072.4M1610.0 1058.0V1065.2M1612.0 1063.5V1069.1M1628.0 1033.5V1043.9M1632.0 1028.7V1042.8M1636.0 1032.4V1040.3M1644.0 1017.1V1026.0M1646.0 1020.9V1032.6M1650.0 1026.4V1037.1M1664.0 1012.6V1016.4M1666.0 1007.6V1020.2M1670.0 1006.3V1014.7M1672.0 1010.0V1016.8M1682.0 1005.4V1022.4M1684.0 1018.7V1023.0M1690.0 1013.0V1020.4M1692.0 1011.5V1027.4M1694.0 1015.1V1069.3M1696.0 1027.9V1042.0M1698.0 1036.7V1045.1M1700.0 1039.4V1056.9M1710.0 1037.1V1047.2M1714.0 1038.9V1051.0M1716.0 1042.1V1057.3M1718.0 1046.9V1059.1M1720.0 1055.9V1071.5M1722.0 1057.7V1078.6M1730.0 1055.5V1056.6M1732.0 1044.6V1064.1M1734.0 1060.6V1064.6M1738.0 1060.4V1065.2M1742.0 1062.1V1065.1M1750.0 1043.0V1048.6M1760.0 1026.1V1032.7M1762.0 1025.6V1037.0M1772.0 995.7V1006.0M1774.0 998.9V1016.2M1776.0 1005.8V1015.8M1778.0 1009.4V1023.1M1780.0 1020.4V1023.3M1782.0 1019.3V1044.3M1786.0 1022.4V1027.8M1788.0 1024.0V1027.0M1790.0 1023.3V1027.1M1794.0 1015.5V1021.9M1796.0 1021.4V1025.6M1800.0 1020.9V1035.3M1806.0 1025.2V1028.6M1810.0 1026.2V1033.3M1818.0 1024.1V1027.5M1820.0 1025.8V1027.6M1822.0 1020.9V1035.4M1826.0 1026.9V1038.0M1828.0 1029.1V1034.9M1834.0 1023.5V1031.9M1838.0 1019.5V1020.6M1840.0 1017.8V1025.5M1844.0 1013.7V1023.2M1846.0 1017.4V1029.0M1848.0 1022.2V1027.2M1854.0 1013.7V1033.0M1858.0 1007.6V1023.5M1860.0 1021.3V1055.9M1862.0 1034.3V1042.4M1864.0 1035.4V1040.4M1866.0 1032.3V1044.6M1868.0 1029.4V1051.2M1872.0 1046.3V1055.9M1876.0 1043.5V1054.1M1884.0 1042.5V1053.7M1894.0 1028.3V1038.0M1904.0 1013.8V1027.0M1912.0 1010.1V1017.6M1914.0 1011.5V1017.7M1916.0 1011.5V1022.3M1918.0 1018.7V1025.1M1920.0 1023.3V1031.9M1926.0 1019.6V1027.1M1932.0 1021.7V1029.4M1942.0 1002.8V1009.6M1948.0 981.1V992.5M1950.0 988.5V993.6M1954.0 981.6V1000.2M1956.0 993.5V1006.7M1958.0 989.8V1011.6M1964.0 1000.9V1016.9M1972.0 993.2V1001.4M1976.0 992.7V1002.0M1980.0 994.7V997.3M1982.0 989.8V1004.6M1988.0 995.6V1004.8M1992.0 991.0V1008.6M1994.0 1005.9V1018.9M1996.0 1011.1V1019.6M1998.0 1010.0V1023.7M2000.0 1016.4V1032.0M2004.0 1016.5V1031.5M2006.0 1022.5V1039.7M2012.0 1014.0V1028.6M2014.0 1022.9V1027.3M2016.0 1017.2V1031.0M2018.0 1029.3V1036.0M2024.0 1029.7V1045.1M2028.0 1040.0V1051.2M2036.0 1033.7V1037.9M2040.0 1030.1V1042.5M2042.0 1035.2V1048.1M2046.0 1037.2V1055.4M2048.0 1048.7V1057.8M2054.0 1041.7V1049.0M2056.0 1039.5V1050.1M2064.0 1033.0V1041.8M2068.0 1034.8V1038.1M2074.0 1027.6V1042.7M2078.0 1020.7V1032.2M2090.0 1001.3V1005.5M2092.0 999.8V1007.1M2094.0 1003.5V1014.7M2096.0 1011.3V1017.3M2098.0 1008.3V1017.9M2100.0 1013.8V1032.8M2104.0 1022.2V1034.8M2106.0 1033.4V1041.9M2110.0 1034.1V1044.3M2120.0 1019.1V1033.7M2124.0 1023.3V1030.4M2126.0 1020.9V1038.2M2128.0 1029.1V1034.2M2130.0 1028.6V1046.0M2134.0 1037.5V1042.0M2136.0 1035.9V1042.6M2138.0 1041.0V1048.3M2140.0 1041.0V1048.2M2142.0 1040.2V1057.1M2144.0 1052.5V1073.9M2146.0 1070.1V1109.1M2148.0 1097.0V1122.1M2152.0 1108.9V1114.7M2156.0 1095.9V1106.0M2160.0 1083.3V1102.8M2162.0 1101.3V1115.0M2170.0 1093.7V1095.9M2172.0 1091.6V1094.6M2176.0 1091.8V1104.6M2180.0 1091.0V1101.5M2188.0 1088.1V1095.9M2192.0 1086.0V1103.9M2198.0 1084.9V1096.6M2200.0 1092.1V1094.5M2204.0 1077.8V1141.0M2206.0 1135.0V1151.1M2220.0 1091.5V1102.4M2226.0 1090.7V1099.3M2228.0 1094.3V1101.2M2230.0 1096.1V1109.7M2236.0 1098.6V1105.2M2238.0 1098.8V1115.0M2240.0 1108.4V1120.8M2242.0 1109.5V1125.9M2244.0 1120.6V1138.0M2246.0 1133.3V1141.8M2248.0 1139.7V1143.2M2250.0 1141.7V1149.6M2256.0 1131.1V1136.6M2266.0 1113.3V1122.3M2268.0 1117.0V1129.7M2272.0 1119.6V1131.9M2274.0 1128.8V1141.1M2278.0 1137.6V1142.9M2280.0 1141.7V1148.9M2282.0 1147.3V1162.0M2284.0 1146.0V1154.2M2286.0 1151.1V1161.7M2292.0 1133.3V1141.3M2294.0 1139.3V1141.8M2298.0 1138.8V1142.4M2300.0 1138.1V1144.4M2304.0 1133.8V1138.0M2306.0 1135.2V1141.8M2308.0 1136.6V1149.7M2310.0 1146.8V1166.6M2312.0 1161.1V1183.5M2316.0 1171.7V1177.8M2320.0 1163.2V1167.4M2324.0 1163.1V1170.2M2326.0 1163.4V1175.8M2328.0 1170.6V1191.5M2330.0 1189.7V1200.0M2332.0 1197.1V1210.7M2334.0 1209.6V1218.6M2338.0 1211.5V1220.7M2342.0 1215.9V1232.3M2344.0 1230.9V1255.6M2346.0 1249.2V1255.5M2348.0 1251.5V1262.7M2350.0 1256.0V1261.2M2352.0 1258.8V1291.8M2356.0 1248.1V1262.5M2358.0 1258.2V1267.7M2362.0 1259.0V1269.7M2364.0 1268.9V1280.9M2366.0 1274.4V1288.7M2372.0 1270.6V1277.7M2378.0 1269.4V1275.2M2390.0 1249.7V1262.3M2398.0 1251.0V1260.8M2400.0 1258.1V1265.8M2406.0 1262.3V1269.2M2408.0 1265.8V1270.9M2412.0 1266.5V1270.5M2414.0 1267.7V1268.9M2416.0 1252.2V1271.0M2418.0 1264.2V1271.2M2420.0 1269.1V1274.5M2422.0 1269.3V1282.5M2424.0 1271.8V1276.8M2430.0 1263.4V1274.1M2432.0 1270.1V1276.6M2434.0 1272.1V1280.7M2436.0 1279.7V1284.5M2438.0 1279.5V1291.2M2440.0 1285.4V1297.0M2444.0 1288.2V1291.6M2446.0 1289.6V1294.1M2450.0 1291.1V1304.3M2458.0 1281.8V1295.1M2462.0 1289.3V1299.9M2468.0 1291.1V1324.4M2472.0 1320.7V1332.8M2474.0 1328.1V1334.3M2476.0 1333.4V1341.6M2478.0 1331.4V1345.5M2482.0 1334.6V1341.2M2492.0 1316.4V1335.8M2494.0 1328.6V1343.9M2500.0 1330.1V1345.6M2502.0 1338.9V1344.9M2504.0 1338.0V1350.5M2506.0 1344.8V1351.4M2508.0 1345.3V1362.3M2510.0 1356.8V1362.5M2514.0 1360.7V1363.0M2516.0 1362.7V1364.7M2518.0 1363.7V1367.3M2526.0 1348.1V1354.9M2534.0 1320.2V1328.3M2542.0 1309.3V1320.6M2546.0 1313.3V1320.6M2550.0 1313.3V1319.9M2552.0 1314.7V1323.8M2568.0 1262.2V1274.2M2572.0 1270.0V1275.7M2574.0 1273.8V1278.1M2576.0 1275.9V1289.0M2578.0 1273.1V1286.7M2580.0 1281.1V1289.8M2584.0 1281.1V1290.6M2586.0 1283.9V1293.3M2594.0 1262.2V1275.8M2596.0 1269.9V1274.2M2598.0 1270.3V1286.9M2600.0 1283.0V1291.8M2602.0 1288.5V1299.0M2604.0 1294.0V1306.2M2606.0 1299.3V1310.1M2608.0 1301.9V1320.8M2618.0 1288.6V1292.1M2624.0 1276.6V1288.4M2632.0 1272.4V1274.0M2636.0 1270.0V1274.4M2644.0 1255.9V1270.2M2648.0 1267.1V1274.6M2650.0 1269.4V1283.3M2652.0 1276.7V1284.4M2654.0 1281.1V1282.5M2658.0 1279.3V1287.0M2660.0 1284.1V1293.3M2666.0 1258.4V1271.1M2668.0 1269.6V1277.8M2672.0 1270.6V1278.5M2684.0 1259.7V1270.0M2686.0 1269.4V1277.6M2690.0 1271.4V1278.4M2694.0 1273.1V1286.3M2696.0 1280.6V1282.9M2698.0 1280.8V1294.9M2704.0 1273.4V1283.5M2716.0 1271.2V1273.5M2718.0 1272.2V1283.0M2722.0 1275.0V1285.7M2726.0 1275.8V1281.7M2728.0 1277.6V1279.7M2736.0 1266.6V1278.1M2740.0 1269.9V1277.4M2746.0 1257.2V1270.2M2750.0 1259.8V1269.9M2756.0 1263.3V1266.5M2760.0 1262.6V1269.4M2762.0 1264.3V1270.6M2764.0 1267.8V1270.1M2766.0 1268.3V1277.3M2768.0 1276.0V1280.3M2770.0 1273.0V1280.8M2778.0 1270.6V1277.3M2782.0 1266.1V1273.1M2784.0 1268.8V1277.4M2788.0 1272.7V1285.1M2790.0 1280.3V1287.2M2792.0 1278.3V1289.9M2794.0 1284.8V1290.6M2796.0 1285.3V1292.3M2798.0 1290.7V1296.2M2804.0 1281.6V1296.5M2806.0 1289.6V1296.1M2808.0 1293.9V1314.9M2810.0 1312.1V1325.2M2812.0 1323.0V1339.7M2818.0 1315.1V1324.9M2822.0 1315.1V1322.7M2824.0 1316.7V1327.3M2828.0 1319.9V1326.7M2830.0 1322.5V1330.6M2834.0 1323.5V1342.0M2846.0 1293.1V1300.3M2848.0 1297.9V1302.1M2850.0 1296.8V1305.6M2858.0 1283.6V1296.3M2860.0 1290.3V1293.6M2862.0 1289.4V1297.4M2864.0 1295.3V1306.1M2866.0 1302.9V1308.8M2868.0 1304.5V1312.3M2870.0 1306.8V1323.5M2874.0 1310.5V1312.7M2880.0 1305.6V1309.0M2882.0 1304.3V1311.5M2886.0 1308.2V1312.5M2888.0 1309.4V1314.0M2892.0 1311.0V1312.1M2896.0 1305.5V1312.0M2904.0 1296.8V1300.5M2906.0 1298.2V1305.3M2914.0 1294.2V1300.4M2922.0 1294.2V1296.9M2926.0 1286.7V1302.7M2928.0 1294.5V1305.4M2930.0 1301.6V1304.9M2932.0 1301.2V1310.6M2938.0 1299.5V1306.2M2942.0 1298.3V1314.3M2946.0 1300.5V1309.4" stroke="#ef5350" stroke-width="1.9"/>
<path d="M10.0 900.8V902.6M12.0 899.3V900.8M16.0 896.1V900.9M20.0 888.8V897.5M22.0 884.0V888.8M24.0 875.9V884.0M28.0 865.7V877.8M32.0 874.6V875.6M40.0 876.0V893.2M42.0 852.3V876.0M44.0 846.2V852.3M46.0 845.4V846.2M48.0 842.6V846.0M50.0 839.7V842.6M54.0 835.8V840.3M60.0 847.9V851.9M64.0 841.6V851.3M66.0 837.4V841.6M68.0 828.6V837.4M70.0 821.9V828.6M72.0 811.5V821.9M74.0 805.4V811.5M76.0 804.6V805.4M78.0 803.8V804.6M82.0 809.8V810.8M88.0 808.1V816.5M90.0 806.0V808.1M92.0 775.6V806.0M94.0 770.5V775.6M96.0 754.6V770.5M106.0 779.8V786.7M110.0 794.2V798.7M116.0 807.0V810.4M118.0 795.3V807.0M120.0 788.2V795.3M122.0 781.1V788.2M136.0 784.4V794.1M140.0 776.9V793.2M142.0 775.9V776.9M146.0 777.6V779.1M148.0 776.7V777.6M150.0 775.4V776.7M152.0 774.6V775.4M156.0 782.7V785.7M160.0 790.0V790.8M166.0 779.4V793.6M168.0 774.6V779.4M170.0 769.4V774.6M174.0 771.3V772.9M176.0 756.4V771.3M178.0 750.8V756.4M192.0 785.3V786.1M194.0 785.2V786.0M196.0 780.9V785.7M202.0 784.4V786.3M204.0 780.1V784.4M206.0 767.7V780.1M208.0 756.8V767.7M210.0 743.4V756.8M212.0 731.5V743.4M214.0 727.4V731.5M220.0 723.0V739.4M228.0 739.8V740.6M230.0 738.5V739.9M236.0 758.0V760.8M238.0 752.4V758.0M240.0 743.8V752.4M244.0 729.9V746.2M256.0 760.7V765.3M258.0 755.8V760.7M260.0 753.7V755.8M262.0 747.0V753.7M264.0 742.8V747.0M274.0 756.7V764.1M276.0 752.7V756.7M278.0 748.5V752.7M280.0 742.5V748.5M282.0 741.7V742.5M284.0 738.1V741.7M286.0 726.0V738.1M290.0 725.8V726.6M292.0 725.5V726.3M294.0 725.4V726.2M298.0 717.7V726.5M308.0 713.5V725.4M312.0 704.6V715.3M314.0 694.9V704.6M316.0 683.6V694.9M318.0 682.3V683.6M320.0 672.3V682.3M324.0 672.8V676.4M328.0 674.5V676.3M330.0 672.2V674.5M334.0 672.0V673.8M338.0 674.1V677.8M344.0 681.6V689.7M350.0 694.4V695.4M356.0 702.9V706.6M360.0 705.8V713.8M362.0 690.2V705.8M364.0 687.4V690.2M366.0 680.2V687.4M372.0 684.1V693.9M376.0 686.7V687.5M378.0 676.8V687.1M380.0 670.7V676.8M384.0 672.0V674.5M390.0 683.4V685.0M398.0 711.7V712.5M400.0 707.6V711.7M404.0 701.6V716.7M406.0 683.1V701.6M410.0 673.8V685.1M412.0 669.2V673.8M414.0 662.8V669.2M416.0 660.6V662.8M418.0 648.0V660.6M420.0 635.1V648.0M422.0 623.6V635.1M424.0 620.7V623.6M426.0 610.1V620.7M430.0 604.8V615.6M434.0 605.4V612.1M436.0 604.6V605.4M438.0 598.6V604.7M440.0 593.5V598.6M446.0 594.8V600.5M448.0 590.2V594.8M450.0 582.6V590.2M452.0 572.6V582.6M454.0 571.2V572.6M456.0 552.9V571.2M460.0 554.5V558.9M470.0 615.6V616.4M474.0 613.0V617.2M476.0 611.0V613.0M478.0 604.4V611.0M496.0 732.9V745.4M508.0 764.9V767.9M514.0 743.6V780.5M516.0 727.6V743.6M518.0 712.9V727.6M520.0 710.3V712.9M524.0 706.1V719.5M526.0 695.2V706.1M528.0 694.4V695.2M530.0 687.3V694.7M538.0 693.0V712.3M542.0 691.8V695.5M546.0 691.2V694.3M554.0 696.8V697.6M556.0 693.1V697.0M558.0 678.5V693.1M560.0 667.8V678.5M562.0 658.6V667.8M564.0 657.5V658.6M572.0 658.2V667.1M578.0 663.0V666.1M582.0 663.3V665.0M584.0 660.6V663.3M588.0 654.2V663.9M590.0 646.8V654.2M592.0 640.1V646.8M594.0 621.2V640.1M596.0 612.6V621.2M598.0 611.2V612.6M600.0 609.4V611.2M602.0 598.3V609.4M604.0 592.7V598.3M608.0 590.8V595.6M610.0 584.3V590.8M612.0 579.2V584.3M616.0 587.3V589.2M618.0 572.6V587.3M628.0 636.6V639.4M636.0 658.2V664.7M638.0 645.1V658.2M640.0 632.8V645.1M642.0 632.0V632.8M644.0 626.2V632.2M646.0 624.4V626.2M650.0 622.3V631.2M662.0 651.3V652.1M664.0 646.3V651.6M666.0 642.8V646.3M670.0 634.1V645.6M674.0 634.7V635.5M676.0 628.4V635.3M678.0 623.5V628.4M680.0 617.4V623.5M682.0 602.3V617.4M684.0 583.3V602.3M686.0 582.5V583.3M688.0 582.0V582.8M694.0 598.7V600.4M696.0 597.2V598.7M700.0 591.3V598.1M702.0 579.7V591.3M706.0 587.3V588.4M708.0 586.4V587.3M716.0 596.4V603.3M720.0 592.8V603.3M724.0 587.3V594.5M736.0 668.2V675.0M750.0 771.2V777.3M756.0 708.2V783.7M760.0 714.2V720.9M764.0 726.5V727.3M766.0 722.8V727.3M768.0 706.6V722.8M776.0 710.6V717.3M778.0 706.0V710.6M780.0 705.2V706.0M784.0 706.2V721.3M790.0 714.3V715.1M794.0 710.6V717.9M798.0 700.5V712.7M800.0 694.5V700.5M802.0 688.6V694.5M804.0 678.4V688.6M806.0 675.3V678.4M818.0 716.9V718.6M820.0 715.1V716.9M822.0 706.9V715.1M828.0 706.0V710.7M830.0 702.2V706.0M832.0 695.3V702.2M838.0 694.3V701.8M840.0 693.5V694.3M842.0 689.5V693.9M846.0 686.2V693.0M850.0 686.0V686.8M852.0 676.6V686.3M854.0 668.2V676.6M856.0 667.4V668.2M860.0 667.3V668.5M864.0 674.7V676.5M870.0 678.4V680.5M872.0 673.2V678.4M878.0 679.7V685.1M898.0 799.6V808.4M902.0 791.0V804.7M912.0 865.5V880.6M926.0 895.9V903.8M928.0 890.1V895.9M930.0 877.5V890.1M942.0 964.6V965.4M944.0 963.3V964.6M946.0 943.1V963.3M948.0 930.7V943.1M950.0 919.1V930.7M952.0 915.6V919.1M968.0 951.3V956.0M970.0 946.4V951.3M982.0 970.2V971.6M984.0 950.0V970.2M988.0 937.6V952.0M990.0 929.7V937.6M996.0 926.5V935.3M1002.0 943.9V951.8M1004.0 940.9V943.9M1006.0 923.1V940.9M1008.0 909.9V923.1M1010.0 905.5V909.9M1012.0 894.3V905.5M1018.0 905.1V906.1M1020.0 897.2V905.1M1022.0 893.5V897.2M1024.0 885.6V893.5M1026.0 872.8V885.6M1030.0 865.6V873.4M1038.0 874.7V877.9M1040.0 870.1V874.7M1042.0 839.5V870.1M1044.0 834.9V839.5M1046.0 833.9V834.9M1052.0 820.3V840.9M1054.0 797.8V820.3M1056.0 791.6V797.8M1060.0 786.8V796.8M1066.0 804.2V809.0M1072.0 816.8V817.6M1074.0 816.2V817.0M1076.0 809.2V816.2M1082.0 836.5V839.0M1084.0 835.6V836.5M1092.0 841.6V849.7M1100.0 856.0V857.4M1102.0 853.8V856.0M1104.0 851.4V853.8M1108.0 840.9V856.6M1110.0 829.5V840.9M1112.0 808.4V829.5M1114.0 807.6V808.4M1116.0 792.9V808.1M1120.0 788.3V797.4M1126.0 794.7V798.3M1128.0 789.9V794.7M1132.0 786.1V791.3M1136.0 775.3V788.6M1152.0 805.4V808.2M1154.0 799.8V805.4M1162.0 822.9V832.9M1166.0 825.8V829.3M1170.0 825.5V831.4M1180.0 829.8V840.4M1182.0 816.4V829.8M1184.0 812.8V816.4M1188.0 817.4V818.2M1190.0 806.7V818.2M1194.0 798.7V811.3M1196.0 793.5V798.7M1198.0 783.5V793.5M1214.0 813.2V815.5M1216.0 812.4V813.2M1224.0 819.6V832.9M1226.0 818.2V819.6M1228.0 816.2V818.2M1230.0 804.9V816.2M1236.0 808.8V809.6M1240.0 803.0V812.6M1242.0 799.8V803.0M1244.0 794.1V799.8M1248.0 783.0V795.8M1258.0 803.0V807.3M1262.0 794.2V808.5M1264.0 784.8V794.2M1266.0 779.4V784.8M1268.0 766.2V779.4M1272.0 759.7V769.6M1274.0 758.9V759.7M1280.0 760.8V766.1M1282.0 730.5V760.8M1284.0 709.7V730.5M1286.0 692.8V709.7M1294.0 731.9V737.0M1300.0 736.5V744.7M1304.0 723.9V737.4M1306.0 722.7V723.9M1308.0 721.9V722.7M1310.0 713.1V722.0M1312.0 703.6V713.1M1316.0 702.6V706.0M1318.0 693.3V702.6M1332.0 785.8V796.6M1334.0 785.0V785.8M1336.0 780.1V785.6M1340.0 787.4V789.4M1350.0 832.1V832.9M1352.0 829.2V832.3M1354.0 821.1V829.2M1356.0 817.7V821.1M1362.0 817.5V824.9M1366.0 825.6V828.9M1376.0 904.8V914.1M1378.0 892.9V904.8M1380.0 883.7V892.9M1392.0 949.1V956.6M1394.0 921.5V949.1M1400.0 919.0V933.6M1402.0 909.7V919.0M1404.0 899.5V909.7M1416.0 941.3V949.1M1426.0 943.1V957.0M1428.0 936.6V943.1M1430.0 930.0V936.6M1438.0 953.3V954.1M1442.0 966.5V969.2M1444.0 954.4V966.5M1446.0 944.0V954.4M1470.0 1060.8V1067.3M1472.0 1056.4V1060.8M1478.0 1072.5V1073.3M1482.0 1063.1V1080.4M1484.0 1049.8V1063.1M1486.0 1041.3V1049.8M1488.0 1033.1V1041.3M1496.0 1036.3V1040.1M1500.0 1038.9V1039.7M1502.0 1029.8V1039.0M1504.0 1013.6V1029.8M1506.0 1012.8V1013.6M1508.0 1011.0V1013.2M1516.0 1018.0V1020.7M1524.0 1027.5V1031.2M1526.0 1026.7V1027.5M1528.0 1024.7V1027.1M1532.0 1018.4V1025.4M1538.0 1029.5V1030.3M1540.0 1024.9V1030.0M1544.0 1021.6V1025.2M1558.0 1042.9V1044.5M1560.0 1041.7V1042.9M1562.0 1039.2V1041.7M1564.0 1037.1V1039.2M1570.0 1036.7V1043.8M1572.0 1028.0V1036.7M1576.0 1034.8V1035.9M1582.0 1036.0V1039.6M1588.0 1039.6V1040.5M1592.0 1045.5V1046.3M1594.0 1043.2V1045.5M1600.0 1045.6V1047.4M1614.0 1063.7V1068.9M1616.0 1060.7V1063.7M1618.0 1058.2V1060.7M1620.0 1053.0V1058.2M1622.0 1050.3V1053.0M1624.0 1041.9V1050.3M1626.0 1036.2V1041.9M1630.0 1031.5V1036.2M1634.0 1032.9V1039.3M1638.0 1030.5V1038.8M1640.0 1025.8V1030.5M1642.0 1023.1V1025.8M1648.0 1029.2V1030.7M1652.0 1031.3V1037.0M1654.0 1030.5V1031.3M1656.0 1026.6V1030.5M1658.0 1022.3V1026.6M1660.0 1014.8V1022.3M1662.0 1013.2V1014.8M1668.0 1010.6V1018.5M1674.0 1015.3V1016.1M1676.0 1014.1V1015.6M1678.0 1013.1V1014.1M1680.0 1010.4V1013.1M1686.0 1017.4V1021.9M1688.0 1013.2V1017.4M1702.0 1048.4V1052.6M1704.0 1047.4V1048.4M1706.0 1040.8V1047.4M1708.0 1038.0V1040.8M1712.0 1044.4V1045.2M1724.0 1060.3V1069.3M1726.0 1056.6V1060.3M1728.0 1055.8V1056.6M1736.0 1061.6V1062.4M1740.0 1063.2V1064.7M1744.0 1062.7V1063.5M1746.0 1059.6V1063.5M1748.0 1044.3V1059.6M1752.0 1039.3V1046.2M1754.0 1038.5V1039.3M1756.0 1035.6V1038.8M1758.0 1028.4V1035.6M1764.0 1024.9V1036.4M1766.0 1011.4V1024.9M1768.0 1009.5V1011.4M1770.0 999.0V1009.5M1784.0 1023.9V1030.3M1792.0 1018.4V1025.8M1798.0 1023.8V1024.6M1802.0 1029.9V1030.7M1804.0 1027.4V1030.6M1808.0 1026.9V1028.1M1812.0 1031.1V1032.5M1814.0 1030.3V1031.1M1816.0 1025.2V1030.5M1824.0 1027.3V1034.0M1830.0 1030.4V1032.9M1832.0 1027.6V1030.4M1836.0 1019.7V1031.2M1842.0 1019.8V1020.6M1850.0 1023.0V1024.5M1852.0 1016.2V1023.0M1856.0 1013.1V1024.3M1870.0 1047.9V1048.9M1874.0 1045.0V1051.0M1878.0 1049.7V1052.6M1880.0 1043.9V1049.7M1882.0 1043.1V1043.9M1886.0 1049.3V1050.6M1888.0 1039.9V1049.3M1890.0 1034.5V1039.9M1892.0 1032.6V1034.5M1896.0 1028.7V1034.1M1898.0 1025.0V1028.7M1900.0 1022.6V1025.0M1902.0 1018.8V1022.6M1906.0 1018.9V1022.4M1908.0 1014.8V1018.9M1910.0 1011.4V1014.8M1922.0 1026.4V1027.2M1924.0 1022.6V1026.5M1928.0 1025.2V1026.7M1930.0 1024.0V1025.2M1934.0 1022.9V1025.6M1936.0 1018.7V1022.9M1938.0 1010.0V1018.7M1940.0 1005.5V1010.0M1944.0 998.9V1005.9M1946.0 984.3V998.9M1952.0 988.1V992.5M1960.0 1005.6V1007.7M1962.0 1003.1V1005.6M1966.0 1005.4V1006.2M1968.0 1003.5V1005.7M1970.0 999.3V1003.5M1974.0 992.9V1001.0M1978.0 996.1V998.6M1984.0 1000.3V1002.1M1986.0 998.0V1000.3M1990.0 998.3V999.1M2002.0 1022.3V1028.9M2008.0 1019.1V1037.4M2010.0 1018.3V1019.1M2020.0 1032.6V1033.9M2022.0 1031.8V1032.6M2026.0 1041.8V1042.7M2030.0 1039.8V1043.7M2032.0 1038.3V1039.8M2034.0 1033.8V1038.3M2038.0 1032.5V1037.8M2044.0 1039.7V1043.7M2050.0 1047.8V1051.1M2052.0 1045.0V1047.8M2058.0 1048.9V1050.0M2060.0 1044.8V1048.9M2062.0 1035.1V1044.8M2066.0 1036.4V1040.1M2070.0 1032.2V1036.7M2072.0 1029.8V1032.2M2076.0 1025.1V1033.5M2080.0 1021.1V1026.7M2082.0 1016.9V1021.1M2084.0 1014.5V1016.9M2086.0 1004.8V1014.5M2088.0 1003.1V1004.8M2102.0 1027.6V1030.5M2108.0 1034.1V1039.2M2112.0 1030.6V1036.8M2114.0 1029.6V1030.6M2116.0 1026.3V1029.6M2118.0 1025.2V1026.3M2122.0 1023.4V1028.4M2132.0 1038.8V1039.6M2150.0 1112.5V1119.2M2154.0 1104.0V1113.9M2158.0 1091.9V1104.4M2164.0 1100.4V1105.0M2166.0 1099.6V1100.4M2168.0 1094.1V1099.7M2174.0 1091.9V1094.5M2178.0 1094.6V1098.7M2182.0 1095.2V1097.4M2184.0 1093.1V1095.2M2186.0 1092.3V1093.1M2190.0 1087.9V1095.0M2194.0 1088.0V1097.1M2196.0 1087.2V1088.0M2202.0 1089.8V1093.2M2208.0 1140.8V1141.9M2210.0 1136.9V1140.8M2212.0 1119.4V1136.9M2214.0 1105.8V1119.4M2216.0 1101.2V1105.8M2218.0 1094.0V1101.2M2222.0 1096.6V1100.8M2224.0 1094.4V1096.6M2232.0 1102.6V1105.9M2234.0 1101.8V1102.6M2252.0 1136.6V1143.0M2254.0 1132.3V1136.6M2258.0 1125.3V1134.0M2260.0 1118.7V1125.3M2262.0 1117.9V1118.7M2264.0 1117.6V1118.5M2270.0 1124.3V1127.7M2276.0 1138.2V1139.0M2288.0 1148.9V1155.1M2290.0 1137.6V1148.9M2296.0 1139.8V1140.6M2302.0 1135.0V1140.9M2314.0 1173.9V1176.5M2318.0 1165.0V1175.1M2322.0 1164.5V1166.9M2336.0 1216.1V1217.4M2340.0 1218.2V1219.3M2354.0 1257.2V1261.2M2360.0 1262.3V1264.3M2368.0 1275.5V1280.1M2370.0 1274.5V1275.5M2374.0 1272.3V1275.7M2376.0 1271.3V1272.3M2380.0 1272.6V1273.5M2382.0 1270.7V1272.6M2384.0 1268.9V1270.7M2386.0 1263.9V1268.9M2388.0 1258.7V1263.9M2392.0 1259.5V1262.1M2394.0 1256.7V1259.5M2396.0 1251.5V1256.7M2402.0 1262.0V1262.8M2404.0 1262.0V1262.8M2410.0 1266.7V1270.2M2426.0 1272.0V1274.4M2428.0 1265.4V1272.0M2442.0 1289.5V1292.8M2448.0 1292.8V1293.6M2452.0 1291.4V1297.1M2454.0 1289.5V1291.4M2456.0 1287.6V1289.5M2460.0 1290.0V1290.8M2464.0 1298.5V1299.5M2466.0 1293.7V1298.5M2470.0 1321.6V1323.1M2480.0 1335.0V1342.5M2484.0 1330.0V1335.6M2486.0 1326.3V1330.0M2488.0 1325.5V1326.3M2490.0 1320.0V1325.7M2496.0 1333.8V1341.3M2498.0 1330.8V1333.8M2512.0 1361.3V1362.1M2520.0 1363.3V1365.1M2522.0 1362.5V1363.3M2524.0 1350.6V1362.5M2528.0 1334.4V1351.9M2530.0 1323.7V1334.4M2532.0 1320.4V1323.7M2536.0 1320.7V1324.6M2538.0 1316.0V1320.7M2540.0 1314.0V1316.0M2544.0 1313.9V1315.9M2548.0 1315.3V1317.0M2554.0 1312.4V1323.4M2556.0 1286.8V1312.4M2558.0 1285.5V1286.8M2560.0 1282.8V1285.5M2562.0 1279.3V1282.8M2564.0 1278.1V1279.3M2566.0 1270.4V1278.1M2570.0 1271.2V1272.0M2582.0 1283.1V1284.1M2588.0 1279.6V1284.8M2590.0 1274.1V1279.6M2592.0 1266.2V1274.1M2610.0 1299.6V1311.6M2612.0 1295.1V1299.6M2614.0 1290.2V1295.1M2616.0 1288.6V1290.2M2620.0 1285.8V1290.1M2622.0 1280.8V1285.8M2626.0 1277.0V1281.0M2628.0 1275.5V1277.0M2630.0 1272.9V1275.5M2634.0 1272.0V1273.5M2638.0 1267.4V1272.1M2640.0 1264.6V1267.4M2642.0 1260.2V1264.6M2646.0 1267.5V1268.3M2656.0 1281.0V1281.9M2662.0 1281.4V1289.5M2664.0 1267.9V1281.4M2670.0 1272.0V1273.1M2674.0 1275.1V1276.4M2676.0 1274.3V1275.1M2678.0 1273.4V1274.6M2680.0 1272.3V1273.4M2682.0 1266.5V1272.3M2688.0 1273.9V1274.7M2692.0 1273.8V1275.2M2700.0 1278.7V1283.3M2702.0 1277.5V1278.7M2706.0 1281.4V1283.0M2708.0 1280.6V1281.4M2710.0 1276.3V1280.8M2712.0 1274.3V1276.3M2714.0 1272.1V1274.3M2720.0 1277.6V1278.5M2724.0 1277.7V1284.7M2730.0 1278.0V1278.9M2732.0 1277.2V1278.0M2734.0 1270.9V1277.4M2738.0 1274.2V1275.6M2742.0 1268.5V1276.3M2744.0 1260.1V1268.5M2748.0 1267.1V1268.3M2752.0 1266.7V1267.5M2754.0 1264.1V1267.1M2758.0 1264.9V1266.5M2772.0 1278.1V1279.1M2774.0 1274.7V1278.1M2776.0 1271.6V1274.7M2780.0 1270.5V1272.3M2786.0 1273.7V1274.5M2800.0 1290.6V1295.5M2802.0 1286.3V1290.6M2814.0 1319.0V1325.7M2816.0 1315.4V1319.0M2820.0 1317.4V1321.2M2826.0 1322.3V1323.1M2832.0 1327.5V1329.6M2836.0 1326.0V1339.3M2838.0 1310.0V1326.0M2840.0 1307.0V1310.0M2842.0 1303.2V1307.0M2844.0 1297.3V1303.2M2852.0 1298.6V1304.9M2854.0 1294.7V1298.6M2856.0 1286.0V1294.7M2872.0 1311.8V1319.7M2876.0 1310.5V1311.8M2878.0 1307.6V1310.5M2884.0 1309.5V1310.3M2890.0 1311.1V1311.9M2894.0 1307.1V1311.5M2898.0 1302.1V1310.1M2900.0 1301.3V1302.1M2902.0 1299.8V1301.3M2908.0 1299.0V1302.5M2910.0 1297.2V1299.0M2912.0 1294.7V1297.2M2916.0 1296.9V1298.6M2918.0 1295.1V1296.9M2920.0 1294.3V1295.1M2924.0 1290.9V1295.8M2934.0 1305.3V1308.1M2936.0 1300.5V1305.3M2940.0 1301.7V1304.8M2944.0 1305.4V1306.9" stroke="#26a69a" stroke-width="2.1"/>
<path d="M14.0 899.3V900.9M18.0 896.1V897.5M26.0 875.9V877.8M30.0 865.7V875.6M34.0 874.6V883.9M36.0 883.9V888.8M38.0 888.8V893.2M52.0 839.7V840.5M56.0 835.8V839.4M58.0 839.4V851.9M62.0 847.9V851.3M80.0 804.3V810.8M84.0 809.8V812.5M86.0 812.5V816.5M98.0 754.6V759.6M100.0 759.6V772.6M102.0 772.6V779.1M104.0 779.1V786.7M108.0 779.8V798.7M112.0 794.2V805.4M114.0 805.4V810.4M124.0 781.1V783.6M126.0 783.6V784.4M128.0 784.0V786.6M130.0 786.6V787.4M132.0 786.8V793.7M134.0 793.7V794.5M138.0 784.4V793.2M144.0 775.9V779.1M154.0 775.2V785.7M158.0 782.7V790.8M162.0 790.0V790.8M164.0 790.1V793.6M172.0 769.4V772.9M180.0 750.8V751.7M182.0 751.7V752.5M184.0 752.0V757.4M186.0 757.4V776.8M188.0 776.8V785.6M190.0 785.6V786.4M198.0 780.9V782.8M200.0 782.8V786.3M216.0 727.4V735.8M218.0 735.8V739.4M222.0 723.0V730.6M224.0 730.6V738.5M226.0 738.5V740.6M232.0 738.5V752.3M234.0 752.3V760.8M242.0 743.8V746.2M246.0 729.9V735.7M248.0 735.7V743.7M250.0 743.7V756.4M252.0 756.4V764.4M254.0 764.4V765.3M266.0 742.8V744.7M268.0 744.7V754.6M270.0 754.6V763.8M272.0 763.8V764.6M288.0 726.0V726.8M296.0 725.4V726.5M300.0 717.7V718.5M302.0 718.0V719.4M304.0 719.4V724.6M306.0 724.6V725.4M310.0 713.5V715.3M322.0 672.3V676.4M326.0 672.8V676.3M332.0 672.2V673.8M336.0 672.0V677.8M340.0 674.1V680.8M342.0 680.8V689.7M346.0 681.6V692.2M348.0 692.2V695.4M352.0 694.4V705.8M354.0 705.8V706.6M358.0 702.9V713.8M368.0 680.2V691.9M370.0 691.9V693.9M374.0 684.1V687.5M382.0 670.7V674.5M386.0 672.0V677.6M388.0 677.6V685.0M392.0 683.4V698.7M394.0 698.7V709.0M396.0 709.0V712.5M402.0 707.6V716.7M408.0 683.1V685.1M428.0 610.1V615.6M432.0 604.8V612.1M442.0 593.5V595.6M444.0 595.6V600.5M458.0 552.9V558.9M462.0 554.5V584.3M464.0 584.3V610.4M466.0 610.4V613.2M468.0 613.2V616.4M472.0 616.3V617.2M480.0 604.4V613.9M482.0 613.9V621.4M484.0 621.4V629.8M486.0 629.8V656.0M488.0 656.0V684.4M490.0 684.4V721.3M492.0 721.3V733.5M494.0 733.5V745.4M498.0 732.9V733.7M500.0 732.9V750.3M502.0 750.3V758.2M504.0 758.2V764.5M506.0 764.5V767.9M510.0 764.9V775.4M512.0 775.4V780.5M522.0 710.3V719.5M532.0 687.3V688.1M534.0 687.8V702.4M536.0 702.4V712.3M540.0 693.0V695.5M544.0 691.8V694.3M548.0 691.2V692.2M550.0 692.2V697.2M552.0 697.2V698.0M566.0 657.5V662.7M568.0 662.7V664.8M570.0 664.8V667.1M574.0 658.2V663.2M576.0 663.2V666.1M580.0 663.0V665.0M586.0 660.6V663.9M606.0 592.7V595.6M614.0 579.2V589.2M620.0 572.6V585.3M622.0 585.3V591.9M624.0 591.9V611.5M626.0 611.5V639.4M630.0 636.6V645.9M632.0 645.9V663.2M634.0 663.2V664.7M648.0 624.4V631.2M652.0 622.3V626.2M654.0 626.2V628.5M656.0 628.5V644.2M658.0 644.2V651.1M660.0 651.1V652.1M668.0 642.8V645.6M672.0 634.1V635.5M690.0 582.0V591.3M692.0 591.3V600.4M698.0 597.2V598.1M704.0 579.7V588.4M710.0 586.4V589.7M712.0 589.7V597.6M714.0 597.6V603.3M718.0 596.4V603.3M722.0 592.8V594.5M726.0 587.3V607.0M728.0 607.0V624.7M730.0 624.7V637.4M732.0 637.4V663.3M734.0 663.3V675.0M738.0 668.2V682.7M740.0 682.7V702.6M742.0 702.6V726.1M744.0 726.1V758.0M746.0 758.0V764.8M748.0 764.8V777.3M752.0 771.2V778.5M754.0 778.5V783.7M758.0 718.3V720.9M762.0 714.2V727.3M770.0 706.6V707.4M772.0 707.3V713.1M774.0 713.1V717.3M782.0 705.2V721.3M786.0 706.2V711.8M788.0 711.8V715.1M792.0 714.7V717.9M796.0 710.6V712.7M808.0 675.3V676.7M810.0 676.7V680.3M812.0 680.3V695.9M814.0 695.9V710.3M816.0 710.3V718.6M824.0 706.9V710.4M826.0 710.4V711.2M834.0 695.3V696.1M836.0 695.9V701.8M844.0 689.5V693.0M848.0 686.2V687.0M858.0 668.2V669.0M862.0 667.3V676.5M866.0 674.7V676.5M868.0 676.5V680.5M874.0 673.2V675.4M876.0 675.4V685.1M880.0 679.7V681.6M882.0 681.6V699.2M884.0 699.2V737.2M886.0 737.2V778.7M888.0 778.7V781.1M890.0 781.1V782.0M892.0 782.0V792.7M894.0 792.7V805.3M896.0 805.3V808.4M900.0 799.6V804.7M904.0 791.0V798.8M906.0 798.8V824.3M908.0 824.3V855.2M910.0 855.2V880.6M914.0 865.5V872.5M916.0 872.5V876.3M918.0 876.3V878.3M920.0 878.3V888.8M922.0 888.8V896.2M924.0 896.2V903.8M932.0 877.5V884.1M934.0 884.1V899.9M936.0 899.9V913.5M938.0 913.5V936.7M940.0 936.7V965.4M954.0 915.6V916.4M956.0 915.8V926.3M958.0 926.3V928.3M960.0 928.3V940.6M962.0 940.6V951.2M964.0 951.2V953.7M966.0 953.7V956.0M972.0 946.4V947.2M974.0 946.4V953.5M976.0 953.5V962.1M978.0 962.1V962.9M980.0 962.5V971.6M986.0 950.0V952.0M992.0 929.7V933.0M994.0 933.0V935.3M998.0 926.5V941.9M1000.0 941.9V951.8M1014.0 894.3V900.7M1016.0 900.7V906.1M1028.0 872.8V873.6M1032.0 865.6V875.0M1034.0 875.0V875.8M1036.0 875.1V877.9M1048.0 833.9V837.0M1050.0 837.0V840.9M1058.0 791.6V796.8M1062.0 786.8V801.7M1064.0 801.7V809.0M1068.0 804.2V808.4M1070.0 808.4V817.6M1078.0 809.2V819.4M1080.0 819.4V839.0M1086.0 835.6V839.2M1088.0 839.2V846.3M1090.0 846.3V849.7M1094.0 841.6V847.9M1096.0 847.9V849.2M1098.0 849.2V857.4M1106.0 851.4V856.6M1118.0 792.9V797.4M1122.0 788.3V794.6M1124.0 794.6V798.3M1130.0 789.9V791.3M1134.0 786.1V788.6M1138.0 775.3V778.8M1140.0 778.8V784.5M1142.0 784.5V785.6M1144.0 785.6V801.5M1146.0 801.5V805.9M1148.0 805.9V806.7M1150.0 806.5V808.2M1156.0 799.8V802.7M1158.0 802.7V830.2M1160.0 830.2V832.9M1164.0 822.9V829.3M1168.0 825.8V831.4M1172.0 825.5V826.3M1174.0 826.0V831.8M1176.0 831.8V836.9M1178.0 836.9V840.4M1186.0 812.8V818.2M1192.0 806.7V811.3M1200.0 783.5V791.0M1202.0 791.0V798.7M1204.0 798.7V799.5M1206.0 799.1V808.0M1208.0 808.0V809.9M1210.0 809.9V814.3M1212.0 814.3V815.5M1218.0 812.5V822.1M1220.0 822.1V826.0M1222.0 826.0V832.9M1232.0 804.9V808.2M1234.0 808.2V809.6M1238.0 809.4V812.6M1246.0 794.1V795.8M1250.0 783.0V786.8M1252.0 786.8V792.4M1254.0 792.4V800.6M1256.0 800.6V807.3M1260.0 803.0V808.5M1270.0 766.2V769.6M1276.0 758.9V762.9M1278.0 762.9V766.1M1288.0 692.8V719.5M1290.0 719.5V735.2M1292.0 735.2V737.0M1296.0 731.9V743.9M1298.0 743.9V744.7M1302.0 736.5V737.4M1314.0 703.6V706.0M1320.0 693.3V698.4M1322.0 698.4V711.6M1324.0 711.6V742.5M1326.0 742.5V772.0M1328.0 772.0V789.0M1330.0 789.0V796.6M1338.0 780.1V789.4M1342.0 787.4V798.1M1344.0 798.1V818.6M1346.0 818.6V824.7M1348.0 824.7V832.9M1358.0 817.7V818.9M1360.0 818.9V824.9M1364.0 817.5V828.9M1368.0 825.6V836.5M1370.0 836.5V867.4M1372.0 867.4V891.0M1374.0 891.0V914.1M1382.0 883.7V897.1M1384.0 897.1V930.1M1386.0 930.1V935.6M1388.0 935.6V946.3M1390.0 946.3V956.6M1396.0 921.5V927.0M1398.0 927.0V933.6M1406.0 899.5V903.3M1408.0 903.3V906.7M1410.0 906.7V926.3M1412.0 926.3V940.4M1414.0 940.4V949.1M1418.0 941.3V946.5M1420.0 946.5V947.3M1422.0 946.9V955.6M1424.0 955.6V957.0M1432.0 930.0V935.6M1434.0 935.6V942.4M1436.0 942.4V954.1M1440.0 953.7V969.2M1448.0 944.0V954.3M1450.0 954.3V959.1M1452.0 959.1V968.2M1454.0 968.2V972.3M1456.0 972.3V976.2M1458.0 976.2V987.9M1460.0 987.9V1000.1M1462.0 1000.1V1023.8M1464.0 1023.8V1041.3M1466.0 1041.3V1057.9M1468.0 1057.9V1067.3M1474.0 1056.4V1063.6M1476.0 1063.6V1073.3M1480.0 1072.5V1080.4M1490.0 1033.1V1035.3M1492.0 1035.3V1038.4M1494.0 1038.4V1040.1M1498.0 1036.3V1039.7M1510.0 1011.0V1016.2M1512.0 1016.2V1020.1M1514.0 1020.1V1020.9M1518.0 1018.0V1019.4M1520.0 1019.4V1028.2M1522.0 1028.2V1031.2M1530.0 1024.7V1025.5M1534.0 1018.4V1025.4M1536.0 1025.4V1030.3M1542.0 1024.9V1025.7M1546.0 1021.6V1028.0M1548.0 1028.0V1029.7M1550.0 1029.7V1034.7M1552.0 1034.7V1035.5M1554.0 1035.5V1038.8M1556.0 1038.8V1044.5M1566.0 1037.1V1042.1M1568.0 1042.1V1043.8M1574.0 1028.0V1035.9M1578.0 1034.8V1038.0M1580.0 1038.0V1039.6M1584.0 1036.0V1039.5M1586.0 1039.5V1040.5M1590.0 1039.6V1046.3M1596.0 1043.2V1044.0M1598.0 1043.4V1047.4M1602.0 1045.6V1051.4M1604.0 1051.4V1057.2M1606.0 1057.2V1058.8M1608.0 1058.8V1063.3M1610.0 1063.3V1064.7M1612.0 1064.7V1068.9M1628.0 1036.2V1037.0M1632.0 1031.5V1039.3M1636.0 1032.9V1038.8M1644.0 1023.1V1024.0M1646.0 1024.0V1030.7M1650.0 1029.2V1037.0M1664.0 1013.2V1014.0M1666.0 1013.5V1018.5M1670.0 1010.6V1014.4M1672.0 1014.4V1016.1M1682.0 1010.4V1020.2M1684.0 1020.2V1021.9M1690.0 1013.2V1018.0M1692.0 1018.0V1020.6M1694.0 1020.6V1029.6M1696.0 1029.6V1040.8M1698.0 1040.8V1041.8M1700.0 1041.8V1052.6M1710.0 1038.0V1045.2M1714.0 1044.5V1048.0M1716.0 1048.0V1051.3M1718.0 1051.3V1056.6M1720.0 1056.6V1066.0M1722.0 1066.0V1069.3M1730.0 1056.1V1056.9M1732.0 1056.1V1062.1M1734.0 1062.1V1062.9M1738.0 1062.2V1064.7M1742.0 1063.2V1064.0M1750.0 1044.3V1046.2M1760.0 1028.4V1030.4M1762.0 1030.4V1036.4M1772.0 999.0V1002.2M1774.0 1002.2V1010.3M1776.0 1010.3V1011.1M1778.0 1010.4V1022.1M1780.0 1022.1V1022.9M1782.0 1022.2V1030.3M1786.0 1023.9V1024.7M1788.0 1024.0V1024.8M1790.0 1024.3V1025.8M1794.0 1018.4V1021.6M1796.0 1021.6V1024.6M1800.0 1024.1V1030.7M1806.0 1027.4V1028.2M1810.0 1026.9V1032.5M1818.0 1025.2V1026.0M1820.0 1025.8V1026.6M1822.0 1025.8V1034.0M1826.0 1027.3V1031.4M1828.0 1031.4V1032.9M1834.0 1027.6V1031.2M1838.0 1019.7V1020.5M1840.0 1020.4V1021.2M1844.0 1020.2V1021.8M1846.0 1021.8V1022.7M1848.0 1022.7V1024.5M1854.0 1016.2V1024.3M1858.0 1013.1V1023.4M1860.0 1023.4V1034.8M1862.0 1034.8V1036.6M1864.0 1036.6V1037.4M1866.0 1037.0V1044.4M1868.0 1044.4V1048.9M1872.0 1047.9V1051.0M1876.0 1045.0V1052.6M1884.0 1043.1V1050.6M1894.0 1032.6V1034.1M1904.0 1018.8V1022.4M1912.0 1011.4V1014.8M1914.0 1014.8V1016.5M1916.0 1016.5V1022.3M1918.0 1022.3V1024.4M1920.0 1024.4V1027.2M1926.0 1022.6V1026.7M1932.0 1024.0V1025.6M1942.0 1005.5V1006.3M1948.0 984.3V990.4M1950.0 990.4V992.5M1954.0 988.1V995.1M1956.0 995.1V1004.8M1958.0 1004.8V1007.7M1964.0 1003.1V1006.2M1972.0 999.3V1001.0M1976.0 992.9V998.6M1980.0 996.1V996.9M1982.0 996.6V1002.1M1988.0 998.0V999.1M1992.0 998.6V1007.7M1994.0 1007.7V1018.4M1996.0 1018.4V1019.2M1998.0 1018.9V1023.3M2000.0 1023.3V1028.9M2004.0 1022.3V1027.6M2006.0 1027.6V1037.4M2012.0 1018.3V1023.0M2014.0 1023.0V1025.7M2016.0 1025.7V1029.6M2018.0 1029.6V1033.9M2024.0 1032.1V1042.7M2028.0 1041.8V1043.7M2036.0 1033.8V1037.8M2040.0 1032.5V1041.9M2042.0 1041.9V1043.7M2046.0 1039.7V1049.7M2048.0 1049.7V1051.1M2054.0 1045.0V1048.4M2056.0 1048.4V1050.0M2064.0 1035.1V1040.1M2068.0 1036.4V1037.2M2074.0 1029.8V1033.5M2078.0 1025.1V1026.7M2090.0 1003.1V1004.0M2092.0 1004.0V1005.0M2094.0 1005.0V1012.2M2096.0 1012.2V1013.5M2098.0 1013.5V1017.1M2100.0 1017.1V1030.5M2104.0 1027.6V1034.4M2106.0 1034.4V1039.2M2110.0 1034.1V1036.8M2120.0 1025.2V1028.4M2124.0 1023.4V1027.4M2126.0 1027.4V1029.5M2128.0 1029.5V1033.1M2130.0 1033.1V1039.6M2134.0 1038.8V1040.1M2136.0 1040.1V1042.4M2138.0 1042.4V1044.2M2140.0 1044.2V1045.0M2142.0 1044.4V1054.9M2144.0 1054.9V1071.1M2146.0 1071.1V1101.3M2148.0 1101.3V1119.2M2152.0 1112.5V1113.9M2156.0 1104.0V1104.8M2160.0 1091.9V1102.5M2162.0 1102.5V1105.0M2170.0 1094.1V1094.9M2172.0 1094.3V1095.1M2176.0 1091.9V1098.7M2180.0 1094.6V1097.4M2188.0 1092.8V1095.0M2192.0 1087.9V1097.1M2198.0 1087.5V1092.2M2200.0 1092.2V1093.2M2204.0 1089.8V1136.9M2206.0 1136.9V1141.9M2220.0 1094.0V1100.8M2226.0 1094.4V1096.0M2228.0 1096.0V1099.3M2230.0 1099.3V1105.9M2236.0 1102.3V1103.7M2238.0 1103.7V1109.4M2240.0 1109.4V1119.1M2242.0 1119.1V1125.3M2244.0 1125.3V1134.0M2246.0 1134.0V1140.7M2248.0 1140.7V1142.8M2250.0 1142.8V1143.6M2256.0 1132.3V1134.0M2266.0 1117.6V1118.9M2268.0 1118.9V1127.7M2272.0 1124.3V1131.2M2274.0 1131.2V1139.0M2278.0 1138.4V1142.2M2280.0 1142.2V1147.3M2282.0 1147.3V1150.6M2284.0 1150.6V1152.9M2286.0 1152.9V1155.1M2292.0 1137.6V1140.1M2294.0 1140.1V1140.9M2298.0 1139.9V1140.7M2300.0 1140.4V1141.2M2304.0 1135.0V1136.9M2306.0 1136.9V1139.3M2308.0 1139.3V1147.4M2310.0 1147.4V1165.7M2312.0 1165.7V1176.5M2316.0 1173.9V1175.1M2320.0 1165.0V1166.9M2324.0 1164.5V1166.7M2326.0 1166.7V1174.1M2328.0 1174.1V1190.1M2330.0 1190.1V1199.3M2332.0 1199.3V1210.5M2334.0 1210.5V1217.4M2338.0 1216.1V1219.3M2342.0 1218.2V1232.0M2344.0 1232.0V1250.3M2346.0 1250.3V1251.7M2348.0 1251.7V1259.6M2350.0 1259.6V1260.9M2352.0 1260.9V1261.7M2356.0 1257.2V1260.6M2358.0 1260.6V1264.3M2362.0 1262.3V1269.6M2364.0 1269.6V1278.4M2366.0 1278.4V1280.1M2372.0 1274.5V1275.7M2378.0 1271.3V1273.5M2390.0 1258.7V1262.1M2398.0 1251.5V1259.9M2400.0 1259.9V1262.8M2406.0 1262.3V1268.5M2408.0 1268.5V1270.2M2412.0 1266.7V1268.3M2414.0 1268.3V1269.1M2416.0 1268.3V1269.1M2418.0 1268.9V1270.4M2420.0 1270.4V1272.6M2422.0 1272.6V1273.5M2424.0 1273.5V1274.4M2430.0 1265.4V1273.4M2432.0 1273.4V1274.3M2434.0 1274.3V1280.1M2436.0 1280.1V1283.2M2438.0 1283.2V1288.0M2440.0 1288.0V1292.8M2444.0 1289.5V1290.6M2446.0 1290.6V1293.6M2450.0 1293.3V1297.1M2458.0 1287.6V1290.8M2462.0 1290.0V1299.5M2468.0 1293.7V1323.1M2472.0 1321.6V1332.4M2474.0 1332.4V1333.9M2476.0 1333.9V1334.7M2478.0 1334.5V1342.5M2482.0 1335.0V1335.8M2492.0 1320.0V1331.2M2494.0 1331.2V1341.3M2500.0 1330.8V1339.2M2502.0 1339.2V1342.5M2504.0 1342.5V1346.5M2506.0 1346.5V1350.3M2508.0 1350.3V1358.2M2510.0 1358.2V1362.1M2514.0 1361.5V1362.9M2516.0 1362.9V1363.9M2518.0 1363.9V1365.1M2526.0 1350.6V1351.9M2534.0 1320.4V1324.6M2542.0 1314.0V1315.9M2546.0 1313.9V1317.0M2550.0 1315.3V1317.3M2552.0 1317.3V1323.4M2568.0 1270.4V1272.0M2572.0 1272.0V1274.8M2574.0 1274.8V1277.1M2576.0 1277.1V1280.2M2578.0 1280.2V1283.4M2580.0 1283.4V1284.2M2584.0 1283.1V1284.7M2586.0 1284.7V1285.5M2594.0 1266.2V1271.4M2596.0 1271.4V1272.2M2598.0 1272.2V1286.3M2600.0 1286.3V1288.7M2602.0 1288.7V1295.8M2604.0 1295.8V1302.7M2606.0 1302.7V1306.8M2608.0 1306.8V1311.6M2618.0 1288.6V1290.1M2624.0 1280.8V1281.6M2632.0 1272.9V1273.7M2636.0 1272.0V1272.8M2644.0 1260.2V1268.3M2648.0 1268.2V1273.0M2650.0 1273.0V1277.2M2652.0 1277.2V1281.8M2654.0 1281.8V1282.6M2658.0 1281.0V1286.6M2660.0 1286.6V1289.5M2666.0 1267.9V1270.0M2668.0 1270.0V1273.1M2672.0 1272.0V1276.4M2684.0 1266.5V1269.5M2686.0 1269.5V1274.7M2690.0 1274.4V1275.2M2694.0 1273.8V1281.3M2696.0 1281.3V1282.7M2698.0 1282.7V1283.5M2704.0 1277.5V1283.0M2716.0 1272.1V1273.1M2718.0 1273.1V1278.5M2722.0 1277.6V1284.7M2726.0 1277.7V1278.5M2728.0 1278.2V1279.0M2736.0 1270.9V1275.6M2740.0 1274.2V1276.3M2746.0 1260.1V1268.3M2750.0 1267.1V1267.9M2756.0 1264.1V1266.5M2760.0 1264.9V1268.8M2762.0 1268.8V1269.6M2764.0 1269.0V1269.8M2766.0 1269.3V1276.6M2768.0 1276.6V1277.4M2770.0 1276.6V1279.1M2778.0 1271.6V1272.4M2782.0 1270.5V1271.3M2784.0 1271.0V1274.5M2788.0 1274.0V1282.9M2790.0 1282.9V1283.7M2792.0 1283.4V1288.2M2794.0 1288.2V1289.3M2796.0 1289.3V1292.1M2798.0 1292.1V1295.5M2804.0 1286.3V1290.2M2806.0 1290.2V1295.6M2808.0 1295.6V1313.8M2810.0 1313.8V1325.1M2812.0 1325.1V1325.9M2818.0 1315.4V1321.2M2822.0 1317.4V1319.1M2824.0 1319.1V1323.1M2828.0 1323.1V1324.9M2830.0 1324.9V1329.6M2834.0 1327.5V1339.3M2846.0 1297.3V1298.9M2848.0 1298.9V1299.7M2850.0 1299.4V1304.9M2858.0 1286.0V1293.3M2860.0 1293.3V1294.1M2862.0 1293.4V1296.8M2864.0 1296.8V1303.7M2866.0 1303.7V1305.6M2868.0 1305.6V1311.6M2870.0 1311.6V1319.7M2874.0 1311.8V1312.6M2880.0 1307.6V1308.4M2882.0 1308.1V1310.3M2886.0 1309.6V1310.4M2888.0 1310.2V1311.9M2892.0 1311.1V1311.9M2896.0 1307.1V1310.1M2904.0 1299.8V1300.6M2906.0 1299.9V1302.5M2914.0 1294.7V1298.6M2922.0 1295.1V1295.9M2926.0 1290.9V1298.8M2928.0 1298.8V1302.7M2930.0 1302.7V1304.3M2932.0 1304.3V1308.1M2938.0 1300.5V1304.8M2942.0 1301.7V1306.9M2946.0 1305.4V1307.1" stroke="#ef5350" stroke-width="2.1"/>
</g>
<path d="M2947.0 1305.0L3100.7 982.6M3062.4 996.7L3100.7 982.6L3115.4 1021.7M3100.7 982.6L3287.0 1018.5M3263.7 984.8L3287.0 1018.5L3252.0 1042.0M3286.5 1005.4L3435.6 531.6M3400.5 550.6L3435.6 531.6L3455.7 567.7" fill="none" stroke="#f23645" stroke-width="5.6" stroke-linejoin="miter" stroke-linecap="butt"/>
<g font-family='"Liberation Sans", sans-serif'>
<text x="456.0" y="358.0" fill="#f23645" stroke="#f23645" stroke-width="0.7" font-size="60.0" text-anchor="middle" textLength="43.0" lengthAdjust="spacingAndGlyphs">w</text>
<text x="2833.5" y="1614.0" fill="#f23645" stroke="#f23645" stroke-width="0.7" font-size="59.0" text-anchor="middle" textLength="29.0" lengthAdjust="spacingAndGlyphs">x</text>
<text x="3434.0" y="429.0" fill="#f23645" stroke="#f23645" stroke-width="0.7" font-size="59.0" text-anchor="middle" textLength="28.0" lengthAdjust="spacingAndGlyphs">y</text>
<circle cx="453.9" cy="415.6" r="31.2" fill="none" stroke="#4caf50" stroke-width="2.2"/><text x="453.9" y="432.6" fill="#4caf50" stroke="#4caf50" stroke-width="0.7" font-size="52.0" text-anchor="middle" textLength="30.0" lengthAdjust="spacingAndGlyphs">C</text>
<circle cx="948.9" cy="1098.4" r="31.2" fill="none" stroke="#4caf50" stroke-width="2.2"/><text x="948.9" y="1115.4" fill="#4caf50" stroke="#4caf50" stroke-width="0.7" font-size="52.0" text-anchor="middle" textLength="46.0" lengthAdjust="spacingAndGlyphs">W</text>
<circle cx="1318.3" cy="581.9" r="31.2" fill="none" stroke="#4caf50" stroke-width="2.2"/><text x="1318.3" y="598.9" fill="#4caf50" stroke="#4caf50" stroke-width="0.7" font-size="52.0" text-anchor="middle" textLength="31.0" lengthAdjust="spacingAndGlyphs">X</text>
<circle cx="2833.5" cy="1529.0" r="31.2" fill="none" stroke="#4caf50" stroke-width="2.2"/><text x="2833.5" y="1546.0" fill="#4caf50" stroke="#4caf50" stroke-width="0.7" font-size="52.0" text-anchor="middle" textLength="30.0" lengthAdjust="spacingAndGlyphs">Y</text>
<circle cx="3101.4" cy="920.2" r="31.2" fill="none" stroke="#4caf50" stroke-width="2.2"/><text x="3101.4" y="937.2" fill="#4caf50" stroke="#4caf50" stroke-width="0.7" font-size="52.0" text-anchor="middle" textLength="31.0" lengthAdjust="spacingAndGlyphs">A</text>
<circle cx="3284.9" cy="1069.0" r="31.2" fill="none" stroke="#4caf50" stroke-width="2.2"/><text x="3284.9" y="1086.0" fill="#4caf50" stroke="#4caf50" stroke-width="0.7" font-size="52.0" text-anchor="middle" textLength="28.0" lengthAdjust="spacingAndGlyphs">B</text>
<circle cx="3437.6" cy="486.0" r="31.2" fill="none" stroke="#4caf50" stroke-width="2.2"/><text x="3437.6" y="503.0" fill="#4caf50" stroke="#4caf50" stroke-width="0.7" font-size="52.0" text-anchor="middle" textLength="30.0" lengthAdjust="spacingAndGlyphs">C</text>
<text x="456.8" y="517.5" fill="#2962ff" stroke="#2962ff" stroke-width="0.7" font-size="54.5" text-anchor="middle" textLength="64.0" lengthAdjust="spacingAndGlyphs">(5)</text>
<text x="708.8" y="536.8" fill="#2962ff" stroke="#2962ff" stroke-width="0.7" font-size="52.5" text-anchor="middle" textLength="66.0" lengthAdjust="spacingAndGlyphs">(X)</text>
<text x="513.3" y="864.2" fill="#2962ff" stroke="#2962ff" stroke-width="0.7" font-size="52.5" text-anchor="middle" textLength="82.0" lengthAdjust="spacingAndGlyphs">(W)</text>
<text x="944.0" y="1009.0" fill="#2962ff" stroke="#2962ff" stroke-width="0.7" font-size="52.5" text-anchor="middle" textLength="66.5" lengthAdjust="spacingAndGlyphs">(Y)</text>
<text x="1135.5" y="739.3" fill="#2962ff" stroke="#2962ff" stroke-width="0.7" font-size="52.5" text-anchor="middle" textLength="68.5" lengthAdjust="spacingAndGlyphs">(A)</text>
<text x="1223.8" y="893.8" fill="#2962ff" stroke="#2962ff" stroke-width="0.7" font-size="52.5" text-anchor="middle" textLength="67.5" lengthAdjust="spacingAndGlyphs">(B)</text>
<text x="1316.8" y="650.3" fill="#2962ff" stroke="#2962ff" stroke-width="0.7" font-size="52.5" text-anchor="middle" textLength="68.0" lengthAdjust="spacingAndGlyphs">(C)</text>
<text x="1471.8" y="1152.4" fill="#2962ff" stroke="#2962ff" stroke-width="0.7" font-size="52.5" text-anchor="middle" textLength="68.5" lengthAdjust="spacingAndGlyphs">(A)</text>
<text x="2092.0" y="932.5" fill="#2962ff" stroke="#2962ff" stroke-width="0.7" font-size="52.5" text-anchor="middle" textLength="67.5" lengthAdjust="spacingAndGlyphs">(B)</text>
<text x="2834.5" y="1471.3" fill="#2962ff" stroke="#2962ff" stroke-width="0.7" font-size="52.5" text-anchor="middle" textLength="67.5" lengthAdjust="spacingAndGlyphs">(C)</text>
<text x="1693.5" y="972.0" fill="#f23645" stroke="#f23645" stroke-width="0.7" font-size="51.7" text-anchor="middle" textLength="44.0" lengthAdjust="spacingAndGlyphs">W</text>
<text x="1721.3" y="1126.3" fill="#f23645" stroke="#f23645" stroke-width="0.7" font-size="51.7" text-anchor="middle" textLength="29.0" lengthAdjust="spacingAndGlyphs">X</text>
<text x="1951.9" y="960.5" fill="#f23645" stroke="#f23645" stroke-width="0.7" font-size="51.7" text-anchor="middle" textLength="30.0" lengthAdjust="spacingAndGlyphs">Y</text>
<text x="2043.7" y="1095.2" fill="#f23645" stroke="#f23645" stroke-width="0.7" font-size="51.7" text-anchor="middle" textLength="29.0" lengthAdjust="spacingAndGlyphs">X</text>
<text x="2086.6" y="984.0" fill="#f23645" stroke="#f23645" stroke-width="0.7" font-size="51.7" text-anchor="middle" textLength="26.0" lengthAdjust="spacingAndGlyphs">Z</text>
<text x="2233.2" y="1052.7" fill="#f23645" stroke="#f23645" stroke-width="0.7" font-size="51.7" text-anchor="middle" textLength="26.0" lengthAdjust="spacingAndGlyphs">2</text>
<text x="2206.4" y="1198.4" fill="#f23645" stroke="#f23645" stroke-width="0.7" font-size="51.7" text-anchor="middle" textLength="24.0" lengthAdjust="spacingAndGlyphs">1</text>
<text x="2521.0" y="1428.7" fill="#f23645" stroke="#f23645" stroke-width="0.7" font-size="51.7" text-anchor="middle" textLength="24.0" lengthAdjust="spacingAndGlyphs">3</text>
<text x="2746.0" y="1235.7" fill="#f23645" stroke="#f23645" stroke-width="0.7" font-size="51.7" text-anchor="middle" textLength="27.0" lengthAdjust="spacingAndGlyphs">4</text>
<text x="2832.0" y="1408.7" fill="#f23645" stroke="#f23645" stroke-width="0.7" font-size="51.7" text-anchor="middle" textLength="24.0" lengthAdjust="spacingAndGlyphs">5</text>
</g>
<circle cx="2949" cy="1859.2" r="32" fill="#0d1628"/>
<circle cx="2949" cy="1859.2" r="28.4" fill="#131722" stroke="#ab47bc" stroke-width="5"/>
<path d="M2957.2 1843.4L2936.4 1859.8L2947.8 1860.8L2940.1 1875.2L2960.5 1858.1L2951.5 1856.8Z" fill="#ab47bc"/>
<g fill="none" stroke="#fff" stroke-width="9.4" stroke-linecap="round">
<circle cx="177.1" cy="161.3" r="30.9"/>
<path d="M224.6 192V141.3M224.6 166C224.6 150 232.5 140.6 246 140"/>
<path d="M260.7 111.8V189.5"/>
<circle cx="291" cy="161.3" r="30.5"/>
<path d="M338.9 156.8H397.0A30.7 30.7 0 1 0 392.3 178.0" stroke-linecap="butt"/>
<path d="M462.5 130.8L438.9 161.5M462.5 192.2L438.9 161.5" stroke-width="8.7"/>
</g>
<path d="M415 141L432 161.5L415 182" fill="none" stroke="#081e3b" stroke-width="15.6" stroke-linecap="butt" stroke-linejoin="miter"/>
<path d="M407 131.5L432 161.5L407 191.5" fill="none" stroke="#ee2f45" stroke-width="10.4" stroke-linecap="round" stroke-linejoin="miter"/>
<path d="M3570.7 0V1959M9 1898.5H3740.5" stroke="#243757" stroke-width="2" fill="none"/>
<g font-family='"Liberation Sans", sans-serif' font-size="35.5" fill="#b2b5be" stroke="#b2b5be" stroke-width="0.6">
<text x="3600" y="43.8" textLength="67" lengthAdjust="spacingAndGlyphs">CNH</text>
<text x="3599" y="156.5" textLength="123" lengthAdjust="spacingAndGlyphs">7.70000</text>
<text x="3599" y="279.5" textLength="123" lengthAdjust="spacingAndGlyphs">7.60000</text>
<text x="3599" y="402.4" textLength="123" lengthAdjust="spacingAndGlyphs">7.50000</text>
<text x="3599" y="525.4" textLength="123" lengthAdjust="spacingAndGlyphs">7.40000</text>
<text x="3599" y="648.3" textLength="123" lengthAdjust="spacingAndGlyphs">7.30000</text>
<text x="3599" y="771.3" textLength="123" lengthAdjust="spacingAndGlyphs">7.20000</text>
<text x="3599" y="894.3" textLength="123" lengthAdjust="spacingAndGlyphs">7.10000</text>
<text x="3599" y="1140.2" textLength="123" lengthAdjust="spacingAndGlyphs">6.90000</text>
<text x="3599" y="1263.1" textLength="123" lengthAdjust="spacingAndGlyphs">6.80000</text>
<text x="3599" y="1386.1" textLength="123" lengthAdjust="spacingAndGlyphs">6.70000</text>
<text x="3599" y="1509.1" textLength="123" lengthAdjust="spacingAndGlyphs">6.60000</text>
<text x="3599" y="1632.0" textLength="123" lengthAdjust="spacingAndGlyphs">6.50000</text>
<text x="3599" y="1755.0" textLength="123" lengthAdjust="spacingAndGlyphs">6.40000</text>
<text x="3599" y="1877.9" textLength="123" lengthAdjust="spacingAndGlyphs">6.30000</text>
<text x="232.0" y="1952" text-anchor="middle" textLength="35.5" lengthAdjust="spacingAndGlyphs">17</text>
<text x="618.6" y="1952" text-anchor="middle" textLength="58.5" lengthAdjust="spacingAndGlyphs" stroke-width="1.7">Nov</text>
<text x="934.5" y="1952" text-anchor="middle" textLength="35.5" lengthAdjust="spacingAndGlyphs">14</text>
<text x="1391.0" y="1952" text-anchor="middle" textLength="56.0" lengthAdjust="spacingAndGlyphs" stroke-width="1.7">Dec</text>
<text x="1638.0" y="1952" text-anchor="middle" textLength="35.0" lengthAdjust="spacingAndGlyphs">12</text>
<text x="1883.0" y="1952" text-anchor="middle" textLength="35.0" lengthAdjust="spacingAndGlyphs">21</text>
<text x="2162.0" y="1952" text-anchor="middle" textLength="80.0" lengthAdjust="spacingAndGlyphs" stroke-width="1.7">2023</text>
<text x="2518.0" y="1952" text-anchor="middle" textLength="36.5" lengthAdjust="spacingAndGlyphs">16</text>
<text x="2940.0" y="1952" text-anchor="middle" textLength="55.5" lengthAdjust="spacingAndGlyphs" stroke-width="1.7">Feb</text>
<text x="3221.5" y="1952" text-anchor="middle" textLength="35.0" lengthAdjust="spacingAndGlyphs">13</text>
</g>
<rect x="3570" y="510.5" width="170.7" height="53" fill="#d1d4dc"/>
<rect x="3570" y="976.3" width="170.7" height="52.7" fill="#d1d4dc"/>
<rect x="3570" y="1281.2" width="170.7" height="94" fill="#ef5350"/>
<g font-family='"Liberation Sans", sans-serif' font-size="35.5">
<text x="3599" y="549.5" fill="#131722" stroke="#131722" stroke-width="0.5" textLength="123" lengthAdjust="spacingAndGlyphs">7.37959</text>
<text x="3599" y="1015" fill="#131722" stroke="#131722" stroke-width="0.5" textLength="123" lengthAdjust="spacingAndGlyphs">7.00168</text>
<text x="3600" y="1320.2" fill="#fff" stroke="#fff" stroke-width="0.9" textLength="123" lengthAdjust="spacingAndGlyphs">6.75342</text>
<text x="3600" y="1361.2" fill="#fff" fill-opacity="0.8" textLength="84" lengthAdjust="spacingAndGlyphs">07:41</text>
</g>
</svg>
</body></html>
